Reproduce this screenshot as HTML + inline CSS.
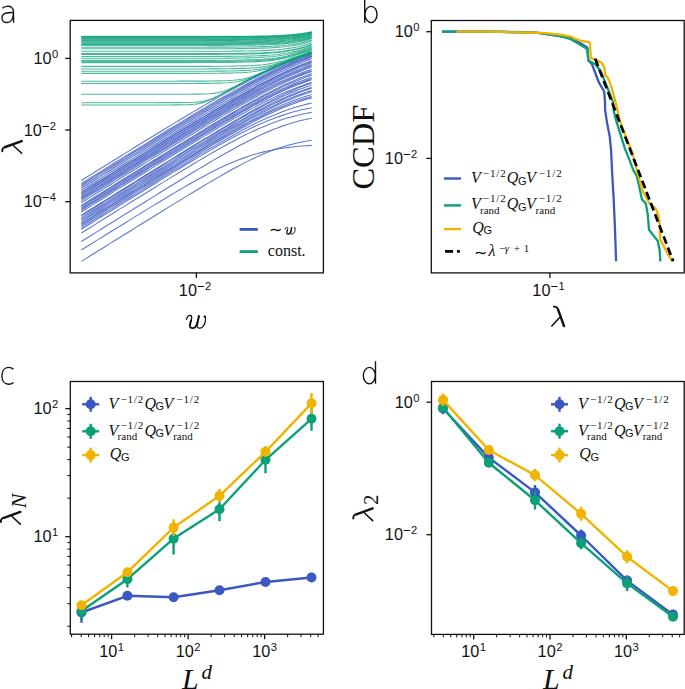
<!DOCTYPE html>
<html><head><meta charset="utf-8"><title>figure</title>
<style>
html,body{margin:0;padding:0;background:#fff;overflow:hidden;}
svg{display:block;}
</style></head><body>
<svg width="685" height="689" viewBox="0 0 685 689" font-family="Liberation Sans, sans-serif">
<defs><clipPath id="ca"><rect x="70.9" y="21" width="251.8" height="251"/></clipPath></defs>
<g clip-path="url(#ca)" fill="none" stroke-width="1.1">
<path d="M81.30,180.46 L86.20,177.42 L91.10,174.38 L96.01,171.34 L100.91,168.30 L105.81,165.26 L110.71,162.23 L115.61,159.20 L120.52,156.17 L125.42,153.14 L130.32,150.12 L135.22,147.09 L140.13,144.08 L145.03,141.07 L149.93,138.06 L154.83,135.06 L159.73,132.07 L164.64,129.08 L169.54,126.10 L174.44,123.14 L179.34,120.18 L184.24,117.24 L189.15,114.31 L194.05,111.39 L198.95,108.49 L203.85,105.62 L208.76,102.76 L213.66,99.93 L218.56,97.13 L223.46,94.36 L228.36,91.62 L233.27,88.92 L238.17,86.27 L243.07,83.65 L247.97,81.09 L252.87,78.59 L257.78,76.14 L262.68,73.76 L267.58,71.44 L272.48,69.20 L277.39,67.04 L282.29,64.96 L287.19,62.97 L292.09,61.07 L296.99,59.26 L301.90,57.54 L306.80,55.92 L311.70,54.40" stroke="#3a57c2" stroke-opacity="0.8"/>
<path d="M81.30,183.59 L86.20,180.55 L91.10,177.50 L96.01,174.46 L100.91,171.42 L105.81,168.38 L110.71,165.34 L115.61,162.30 L120.52,159.26 L125.42,156.23 L130.32,153.20 L135.22,150.17 L140.13,147.15 L145.03,144.12 L149.93,141.11 L154.83,138.09 L159.73,135.09 L164.64,132.08 L169.54,129.09 L174.44,126.10 L179.34,123.12 L184.24,120.15 L189.15,117.20 L194.05,114.25 L198.95,111.32 L203.85,108.40 L208.76,105.51 L213.66,102.63 L218.56,99.77 L223.46,96.95 L228.36,94.14 L233.27,91.37 L238.17,88.64 L243.07,85.95 L247.97,83.29 L252.87,80.69 L257.78,78.14 L262.68,75.64 L267.58,73.20 L272.48,70.84 L277.39,68.54 L282.29,66.32 L287.19,64.18 L292.09,62.13 L296.99,60.17 L301.90,58.30 L306.80,56.52 L311.70,54.84" stroke="#3a57c2" stroke-opacity="0.8"/>
<path d="M81.30,184.99 L86.20,181.94 L91.10,178.90 L96.01,175.85 L100.91,172.81 L105.81,169.77 L110.71,166.73 L115.61,163.69 L120.52,160.66 L125.42,157.62 L130.32,154.59 L135.22,151.56 L140.13,148.53 L145.03,145.51 L149.93,142.49 L154.83,139.48 L159.73,136.47 L164.64,133.46 L169.54,130.46 L174.44,127.47 L179.34,124.49 L184.24,121.52 L189.15,118.56 L194.05,115.61 L198.95,112.67 L203.85,109.75 L208.76,106.85 L213.66,103.97 L218.56,101.11 L223.46,98.27 L228.36,95.47 L233.27,92.69 L238.17,89.95 L243.07,87.24 L247.97,84.58 L252.87,81.97 L257.78,79.41 L262.68,76.90 L267.58,74.46 L272.48,72.08 L277.39,69.77 L282.29,67.54 L287.19,65.40 L292.09,63.33 L296.99,61.36 L301.90,59.48 L306.80,57.70 L311.70,56.01" stroke="#3a57c2" stroke-opacity="0.8"/>
<path d="M81.30,186.58 L86.20,183.53 L91.10,180.49 L96.01,177.44 L100.91,174.40 L105.81,171.36 L110.71,168.31 L115.61,165.27 L120.52,162.24 L125.42,159.20 L130.32,156.16 L135.22,153.13 L140.13,150.10 L145.03,147.07 L149.93,144.05 L154.83,141.03 L159.73,138.01 L164.64,135.00 L169.54,132.00 L174.44,129.00 L179.34,126.01 L184.24,123.02 L189.15,120.05 L194.05,117.09 L198.95,114.14 L203.85,111.20 L208.76,108.28 L213.66,105.37 L218.56,102.49 L223.46,99.63 L228.36,96.79 L233.27,93.98 L238.17,91.20 L243.07,88.46 L247.97,85.75 L252.87,83.09 L257.78,80.48 L262.68,77.91 L267.58,75.41 L272.48,72.97 L277.39,70.59 L282.29,68.29 L287.19,66.06 L292.09,63.92 L296.99,61.86 L301.90,59.90 L306.80,58.03 L311.70,56.25" stroke="#3a57c2" stroke-opacity="0.8"/>
<path d="M81.30,188.30 L86.20,185.26 L91.10,182.21 L96.01,179.16 L100.91,176.12 L105.81,173.08 L110.71,170.03 L115.61,166.99 L120.52,163.95 L125.42,160.91 L130.32,157.88 L135.22,154.84 L140.13,151.81 L145.03,148.78 L149.93,145.75 L154.83,142.73 L159.73,139.71 L164.64,136.70 L169.54,133.69 L174.44,130.68 L179.34,127.69 L184.24,124.70 L189.15,121.72 L194.05,118.75 L198.95,115.79 L203.85,112.84 L208.76,109.91 L213.66,107.00 L218.56,104.10 L223.46,101.23 L228.36,98.37 L233.27,95.55 L238.17,92.75 L243.07,89.99 L247.97,87.26 L252.87,84.58 L257.78,81.94 L262.68,79.35 L267.58,76.82 L272.48,74.35 L277.39,71.94 L282.29,69.60 L287.19,67.34 L292.09,65.17 L296.99,63.07 L301.90,61.07 L306.80,59.16 L311.70,57.35" stroke="#3a57c2" stroke-opacity="0.8"/>
<path d="M81.30,190.34 L86.20,187.29 L91.10,184.24 L96.01,181.20 L100.91,178.15 L105.81,175.11 L110.71,172.06 L115.61,169.02 L120.52,165.98 L125.42,162.94 L130.32,159.90 L135.22,156.87 L140.13,153.83 L145.03,150.80 L149.93,147.77 L154.83,144.74 L159.73,141.72 L164.64,138.70 L169.54,135.69 L174.44,132.68 L179.34,129.68 L184.24,126.69 L189.15,123.70 L194.05,120.72 L198.95,117.76 L203.85,114.80 L208.76,111.86 L213.66,108.94 L218.56,106.03 L223.46,103.14 L228.36,100.27 L233.27,97.43 L238.17,94.62 L243.07,91.84 L247.97,89.09 L252.87,86.38 L257.78,83.72 L262.68,81.11 L267.58,78.54 L272.48,76.04 L277.39,73.60 L282.29,71.23 L287.19,68.94 L292.09,66.73 L296.99,64.60 L301.90,62.56 L306.80,60.61 L311.70,58.76" stroke="#3a57c2" stroke-opacity="0.8"/>
<path d="M81.30,192.18 L86.20,189.14 L91.10,186.09 L96.01,183.04 L100.91,180.00 L105.81,176.95 L110.71,173.91 L115.61,170.87 L120.52,167.83 L125.42,164.79 L130.32,161.75 L135.22,158.71 L140.13,155.68 L145.03,152.64 L149.93,149.61 L154.83,146.59 L159.73,143.56 L164.64,140.55 L169.54,137.53 L174.44,134.52 L179.34,131.52 L184.24,128.53 L189.15,125.54 L194.05,122.56 L198.95,119.60 L203.85,116.64 L208.76,113.70 L213.66,110.77 L218.56,107.86 L223.46,104.98 L228.36,102.11 L233.27,99.27 L238.17,96.46 L243.07,93.68 L247.97,90.93 L252.87,88.23 L257.78,85.57 L262.68,82.96 L267.58,80.41 L272.48,77.91 L277.39,75.49 L282.29,73.13 L287.19,70.84 L292.09,68.64 L296.99,66.53 L301.90,64.51 L306.80,62.58 L311.70,60.76" stroke="#3a57c2" stroke-opacity="0.8"/>
<path d="M81.30,192.89 L86.20,189.84 L91.10,186.80 L96.01,183.75 L100.91,180.71 L105.81,177.66 L110.71,174.62 L115.61,171.57 L120.52,168.53 L125.42,165.49 L130.32,162.45 L135.22,159.42 L140.13,156.38 L145.03,153.35 L149.93,150.32 L154.83,147.30 L159.73,144.27 L164.64,141.25 L169.54,138.24 L174.44,135.23 L179.34,132.23 L184.24,129.24 L189.15,126.25 L194.05,123.27 L198.95,120.31 L203.85,117.35 L208.76,114.41 L213.66,111.49 L218.56,108.58 L223.46,105.70 L228.36,102.83 L233.27,99.99 L238.17,97.19 L243.07,94.41 L247.97,91.67 L252.87,88.97 L257.78,86.32 L262.68,83.72 L267.58,81.17 L272.48,78.69 L277.39,76.27 L282.29,73.92 L287.19,71.65 L292.09,69.46 L296.99,67.37 L301.90,65.36 L306.80,63.45 L311.70,61.64" stroke="#3a57c2" stroke-opacity="0.8"/>
<path d="M81.30,194.31 L86.20,191.26 L91.10,188.21 L96.01,185.17 L100.91,182.12 L105.81,179.08 L110.71,176.03 L115.61,172.99 L120.52,169.95 L125.42,166.90 L130.32,163.87 L135.22,160.83 L140.13,157.79 L145.03,154.76 L149.93,151.73 L154.83,148.70 L159.73,145.68 L164.64,142.66 L169.54,139.64 L174.44,136.63 L179.34,133.63 L184.24,130.63 L189.15,127.64 L194.05,124.66 L198.95,121.69 L203.85,118.73 L208.76,115.79 L213.66,112.86 L218.56,109.95 L223.46,107.05 L228.36,104.18 L233.27,101.34 L238.17,98.52 L243.07,95.74 L247.97,92.99 L252.87,90.28 L257.78,87.62 L262.68,85.01 L267.58,82.45 L272.48,79.95 L277.39,77.52 L282.29,75.16 L287.19,72.87 L292.09,70.67 L296.99,68.56 L301.90,66.54 L306.80,64.62 L311.70,62.80" stroke="#3a57c2" stroke-opacity="0.8"/>
<path d="M81.30,195.45 L86.20,192.40 L91.10,189.36 L96.01,186.31 L100.91,183.26 L105.81,180.22 L110.71,177.18 L115.61,174.13 L120.52,171.09 L125.42,168.05 L130.32,165.01 L135.22,161.97 L140.13,158.94 L145.03,155.91 L149.93,152.88 L154.83,149.85 L159.73,146.83 L164.64,143.81 L169.54,140.80 L174.44,137.79 L179.34,134.79 L184.24,131.79 L189.15,128.81 L194.05,125.83 L198.95,122.87 L203.85,119.91 L208.76,116.98 L213.66,114.05 L218.56,111.15 L223.46,108.27 L228.36,105.41 L233.27,102.58 L238.17,99.77 L243.07,97.01 L247.97,94.28 L252.87,91.59 L257.78,88.95 L262.68,86.37 L267.58,83.84 L272.48,81.37 L277.39,78.98 L282.29,76.66 L287.19,74.42 L292.09,72.27 L296.99,70.21 L301.90,68.24 L306.80,66.37 L311.70,64.61" stroke="#3a57c2" stroke-opacity="0.8"/>
<path d="M81.30,196.85 L86.20,193.80 L91.10,190.76 L96.01,187.71 L100.91,184.66 L105.81,181.62 L110.71,178.57 L115.61,175.53 L120.52,172.49 L125.42,169.45 L130.32,166.41 L135.22,163.37 L140.13,160.33 L145.03,157.30 L149.93,154.27 L154.83,151.24 L159.73,148.22 L164.64,145.20 L169.54,142.18 L174.44,139.18 L179.34,136.17 L184.24,133.18 L189.15,130.19 L194.05,127.21 L198.95,124.24 L203.85,121.28 L208.76,118.34 L213.66,115.42 L218.56,112.51 L223.46,109.62 L228.36,106.76 L233.27,103.92 L238.17,101.11 L243.07,98.34 L247.97,95.60 L252.87,92.90 L257.78,90.26 L262.68,87.66 L267.58,85.13 L272.48,82.65 L277.39,80.25 L282.29,77.92 L287.19,75.67 L292.09,73.51 L296.99,71.44 L301.90,69.46 L306.80,67.59 L311.70,65.82" stroke="#3a57c2" stroke-opacity="0.8"/>
<path d="M81.30,198.02 L86.20,194.98 L91.10,191.93 L96.01,188.88 L100.91,185.84 L105.81,182.79 L110.71,179.75 L115.61,176.70 L120.52,173.66 L125.42,170.62 L130.32,167.58 L135.22,164.54 L140.13,161.51 L145.03,158.47 L149.93,155.44 L154.83,152.41 L159.73,149.39 L164.64,146.37 L169.54,143.35 L174.44,140.34 L179.34,137.34 L184.24,134.34 L189.15,131.35 L194.05,128.37 L198.95,125.40 L203.85,122.45 L208.76,119.50 L213.66,116.58 L218.56,113.67 L223.46,110.78 L228.36,107.91 L233.27,105.08 L238.17,102.27 L243.07,99.49 L247.97,96.76 L252.87,94.06 L257.78,91.41 L262.68,88.82 L267.58,86.29 L272.48,83.81 L277.39,81.41 L282.29,79.09 L287.19,76.84 L292.09,74.68 L296.99,72.62 L301.90,70.65 L306.80,68.79 L311.70,67.03" stroke="#3a57c2" stroke-opacity="0.8"/>
<path d="M81.30,199.32 L86.20,196.27 L91.10,193.22 L96.01,190.17 L100.91,187.13 L105.81,184.08 L110.71,181.04 L115.61,178.00 L120.52,174.95 L125.42,171.91 L130.32,168.87 L135.22,165.84 L140.13,162.80 L145.03,159.77 L149.93,156.74 L154.83,153.72 L159.73,150.69 L164.64,147.68 L169.54,144.66 L174.44,141.66 L179.34,138.66 L184.24,135.66 L189.15,132.68 L194.05,129.71 L198.95,126.74 L203.85,123.80 L208.76,120.86 L213.66,117.95 L218.56,115.05 L223.46,112.18 L228.36,109.33 L233.27,106.51 L238.17,103.72 L243.07,100.97 L247.97,98.27 L252.87,95.60 L257.78,92.99 L262.68,90.44 L267.58,87.95 L272.48,85.53 L277.39,83.18 L282.29,80.91 L287.19,78.73 L292.09,76.65 L296.99,74.66 L301.90,72.77 L306.80,70.98 L311.70,69.31" stroke="#3a57c2" stroke-opacity="0.8"/>
<path d="M81.30,200.70 L86.20,197.65 L91.10,194.60 L96.01,191.56 L100.91,188.51 L105.81,185.46 L110.71,182.42 L115.61,179.38 L120.52,176.33 L125.42,173.29 L130.32,170.25 L135.22,167.22 L140.13,164.18 L145.03,161.15 L149.93,158.12 L154.83,155.09 L159.73,152.07 L164.64,149.05 L169.54,146.04 L174.44,143.03 L179.34,140.03 L184.24,137.03 L189.15,134.05 L194.05,131.07 L198.95,128.11 L203.85,125.16 L208.76,122.22 L213.66,119.31 L218.56,116.41 L223.46,113.53 L228.36,110.68 L233.27,107.86 L238.17,105.07 L243.07,102.32 L247.97,99.61 L252.87,96.95 L257.78,94.34 L262.68,91.78 L267.58,89.29 L272.48,86.87 L277.39,84.52 L282.29,82.26 L287.19,80.08 L292.09,77.99 L296.99,76.01 L301.90,74.12 L306.80,72.34 L311.70,70.67" stroke="#3a57c2" stroke-opacity="0.8"/>
<path d="M81.30,202.71 L86.20,199.67 L91.10,196.62 L96.01,193.57 L100.91,190.52 L105.81,187.48 L110.71,184.43 L115.61,181.39 L120.52,178.34 L125.42,175.30 L130.32,172.26 L135.22,169.22 L140.13,166.18 L145.03,163.15 L149.93,160.11 L154.83,157.08 L159.73,154.06 L164.64,151.03 L169.54,148.01 L174.44,145.00 L179.34,141.99 L184.24,138.99 L189.15,136.00 L194.05,133.01 L198.95,130.03 L203.85,127.07 L208.76,124.12 L213.66,121.18 L218.56,118.27 L223.46,115.37 L228.36,112.49 L233.27,109.65 L238.17,106.83 L243.07,104.04 L247.97,101.29 L252.87,98.59 L257.78,95.93 L262.68,93.32 L267.58,90.78 L272.48,88.29 L277.39,85.88 L282.29,83.55 L287.19,81.30 L292.09,79.14 L296.99,77.07 L301.90,75.11 L306.80,73.25 L311.70,71.50" stroke="#3a57c2" stroke-opacity="0.8"/>
<path d="M81.30,205.40 L86.20,202.35 L91.10,199.30 L96.01,196.26 L100.91,193.21 L105.81,190.16 L110.71,187.12 L115.61,184.07 L120.52,181.03 L125.42,177.98 L130.32,174.94 L135.22,171.90 L140.13,168.86 L145.03,165.82 L149.93,162.79 L154.83,159.75 L159.73,156.72 L164.64,153.70 L169.54,150.68 L174.44,147.66 L179.34,144.64 L184.24,141.64 L189.15,138.64 L194.05,135.65 L198.95,132.66 L203.85,129.69 L208.76,126.73 L213.66,123.79 L218.56,120.86 L223.46,117.95 L228.36,115.06 L233.27,112.20 L238.17,109.36 L243.07,106.56 L247.97,103.79 L252.87,101.06 L257.78,98.38 L262.68,95.75 L267.58,93.18 L272.48,90.67 L277.39,88.23 L282.29,85.86 L287.19,83.58 L292.09,81.38 L296.99,79.28 L301.90,77.28 L306.80,75.39 L311.70,73.60" stroke="#3a57c2" stroke-opacity="0.8"/>
<path d="M81.30,206.33 L86.20,203.28 L91.10,200.23 L96.01,197.19 L100.91,194.14 L105.81,191.09 L110.71,188.05 L115.61,185.00 L120.52,181.96 L125.42,178.91 L130.32,175.87 L135.22,172.83 L140.13,169.79 L145.03,166.76 L149.93,163.72 L154.83,160.69 L159.73,157.66 L164.64,154.64 L169.54,151.61 L174.44,148.60 L179.34,145.59 L184.24,142.58 L189.15,139.59 L194.05,136.60 L198.95,133.62 L203.85,130.65 L208.76,127.70 L213.66,124.76 L218.56,121.84 L223.46,118.94 L228.36,116.06 L233.27,113.20 L238.17,110.38 L243.07,107.59 L247.97,104.84 L252.87,102.13 L257.78,99.47 L262.68,96.86 L267.58,94.32 L272.48,91.84 L277.39,89.43 L282.29,87.10 L287.19,84.86 L292.09,82.70 L296.99,80.65 L301.90,78.70 L306.80,76.86 L311.70,75.12" stroke="#3a57c2" stroke-opacity="0.8"/>
<path d="M81.30,207.72 L86.20,204.67 L91.10,201.62 L96.01,198.58 L100.91,195.53 L105.81,192.48 L110.71,189.44 L115.61,186.39 L120.52,183.35 L125.42,180.30 L130.32,177.26 L135.22,174.22 L140.13,171.18 L145.03,168.15 L149.93,165.12 L154.83,162.08 L159.73,159.06 L164.64,156.03 L169.54,153.01 L174.44,150.00 L179.34,146.99 L184.24,143.99 L189.15,141.00 L194.05,138.01 L198.95,135.04 L203.85,132.08 L208.76,129.13 L213.66,126.20 L218.56,123.29 L223.46,120.40 L228.36,117.53 L233.27,114.69 L238.17,111.89 L243.07,109.12 L247.97,106.39 L252.87,103.70 L257.78,101.07 L262.68,98.50 L267.58,95.99 L272.48,93.55 L277.39,91.18 L282.29,88.91 L287.19,86.72 L292.09,84.62 L296.99,82.63 L301.90,80.75 L306.80,78.97 L311.70,77.31" stroke="#3a57c2" stroke-opacity="0.8"/>
<path d="M81.30,209.08 L86.20,206.03 L91.10,202.99 L96.01,199.94 L100.91,196.89 L105.81,193.84 L110.71,190.80 L115.61,187.75 L120.52,184.71 L125.42,181.67 L130.32,178.62 L135.22,175.58 L140.13,172.54 L145.03,169.51 L149.93,166.47 L154.83,163.44 L159.73,160.42 L164.64,157.39 L169.54,154.37 L174.44,151.36 L179.34,148.35 L184.24,145.35 L189.15,142.35 L194.05,139.37 L198.95,136.39 L203.85,133.43 L208.76,130.48 L213.66,127.55 L218.56,124.64 L223.46,121.75 L228.36,118.88 L233.27,116.04 L238.17,113.23 L243.07,110.46 L247.97,107.73 L252.87,105.05 L257.78,102.42 L262.68,99.85 L267.58,97.34 L272.48,94.90 L277.39,92.54 L282.29,90.27 L287.19,88.09 L292.09,86.00 L296.99,84.02 L301.90,82.14 L306.80,80.38 L311.70,78.73" stroke="#3a57c2" stroke-opacity="0.8"/>
<path d="M81.30,210.24 L86.20,207.19 L91.10,204.14 L96.01,201.09 L100.91,198.04 L105.81,195.00 L110.71,191.95 L115.61,188.91 L120.52,185.86 L125.42,182.82 L130.32,179.78 L135.22,176.73 L140.13,173.70 L145.03,170.66 L149.93,167.62 L154.83,164.59 L159.73,161.56 L164.64,158.54 L169.54,155.52 L174.44,152.50 L179.34,149.49 L184.24,146.49 L189.15,143.49 L194.05,140.50 L198.95,137.53 L203.85,134.56 L208.76,131.61 L213.66,128.68 L218.56,125.76 L223.46,122.86 L228.36,119.99 L233.27,117.15 L238.17,114.33 L243.07,111.56 L247.97,108.82 L252.87,106.13 L257.78,103.49 L262.68,100.91 L267.58,98.40 L272.48,95.95 L277.39,93.58 L282.29,91.30 L287.19,89.10 L292.09,87.01 L296.99,85.02 L301.90,83.13 L306.80,81.36 L311.70,79.70" stroke="#3a57c2" stroke-opacity="0.8"/>
<path d="M81.30,211.98 L86.20,208.93 L91.10,205.89 L96.01,202.84 L100.91,199.79 L105.81,196.74 L110.71,193.70 L115.61,190.65 L120.52,187.61 L125.42,184.57 L130.32,181.53 L135.22,178.49 L140.13,175.45 L145.03,172.41 L149.93,169.38 L154.83,166.35 L159.73,163.32 L164.64,160.30 L169.54,157.28 L174.44,154.27 L179.34,151.26 L184.24,148.26 L189.15,145.27 L194.05,142.29 L198.95,139.32 L203.85,136.36 L208.76,133.42 L213.66,130.49 L218.56,127.59 L223.46,124.71 L228.36,121.85 L233.27,119.03 L238.17,116.24 L243.07,113.49 L247.97,110.78 L252.87,108.12 L257.78,105.52 L262.68,102.99 L267.58,100.52 L272.48,98.13 L277.39,95.82 L282.29,93.60 L287.19,91.48 L292.09,89.46 L296.99,87.55 L301.90,85.76 L306.80,84.07 L311.70,82.51" stroke="#3a57c2" stroke-opacity="0.8"/>
<path d="M81.30,215.15 L86.20,212.10 L91.10,209.05 L96.01,206.00 L100.91,202.96 L105.81,199.91 L110.71,196.86 L115.61,193.81 L120.52,190.77 L125.42,187.72 L130.32,184.68 L135.22,181.63 L140.13,178.59 L145.03,175.55 L149.93,172.51 L154.83,169.47 L159.73,166.44 L164.64,163.41 L169.54,160.38 L174.44,157.36 L179.34,154.34 L184.24,151.32 L189.15,148.31 L194.05,145.31 L198.95,142.32 L203.85,139.33 L208.76,136.36 L213.66,133.40 L218.56,130.46 L223.46,127.53 L228.36,124.62 L233.27,121.74 L238.17,118.88 L243.07,116.05 L247.97,113.26 L252.87,110.51 L257.78,107.80 L262.68,105.14 L267.58,102.54 L272.48,100.00 L277.39,97.54 L282.29,95.15 L287.19,92.85 L292.09,90.64 L296.99,88.53 L301.90,86.52 L306.80,84.63 L311.70,82.85" stroke="#3a57c2" stroke-opacity="0.8"/>
<path d="M81.30,215.87 L86.20,212.83 L91.10,209.78 L96.01,206.73 L100.91,203.68 L105.81,200.63 L110.71,197.59 L115.61,194.54 L120.52,191.49 L125.42,188.45 L130.32,185.41 L135.22,182.36 L140.13,179.32 L145.03,176.28 L149.93,173.25 L154.83,170.21 L159.73,167.18 L164.64,164.15 L169.54,161.13 L174.44,158.11 L179.34,155.09 L184.24,152.08 L189.15,149.08 L194.05,146.09 L198.95,143.10 L203.85,140.13 L208.76,137.17 L213.66,134.23 L218.56,131.30 L223.46,128.39 L228.36,125.51 L233.27,122.65 L238.17,119.83 L243.07,117.04 L247.97,114.29 L252.87,111.58 L257.78,108.93 L262.68,106.33 L267.58,103.80 L272.48,101.34 L277.39,98.96 L282.29,96.67 L287.19,94.47 L292.09,92.37 L296.99,90.37 L301.90,88.49 L306.80,86.72 L311.70,85.07" stroke="#3a57c2" stroke-opacity="0.8"/>
<path d="M81.30,217.62 L86.20,214.57 L91.10,211.52 L96.01,208.47 L100.91,205.42 L105.81,202.38 L110.71,199.33 L115.61,196.28 L120.52,193.24 L125.42,190.19 L130.32,187.15 L135.22,184.11 L140.13,181.07 L145.03,178.03 L149.93,174.99 L154.83,171.96 L159.73,168.93 L164.64,165.90 L169.54,162.87 L174.44,159.86 L179.34,156.84 L184.24,153.83 L189.15,150.83 L194.05,147.84 L198.95,144.86 L203.85,141.89 L208.76,138.94 L213.66,136.00 L218.56,133.07 L223.46,130.17 L228.36,127.30 L233.27,124.45 L238.17,121.64 L243.07,118.86 L247.97,116.12 L252.87,113.43 L257.78,110.80 L262.68,108.23 L267.58,105.72 L272.48,103.29 L277.39,100.94 L282.29,98.68 L287.19,96.52 L292.09,94.46 L296.99,92.52 L301.90,90.68 L306.80,88.96 L311.70,87.37" stroke="#3a57c2" stroke-opacity="0.8"/>
<path d="M81.30,218.95 L86.20,215.90 L91.10,212.85 L96.01,209.80 L100.91,206.75 L105.81,203.70 L110.71,200.66 L115.61,197.61 L120.52,194.56 L125.42,191.52 L130.32,188.47 L135.22,185.43 L140.13,182.39 L145.03,179.35 L149.93,176.31 L154.83,173.28 L159.73,170.24 L164.64,167.21 L169.54,164.19 L174.44,161.17 L179.34,158.15 L184.24,155.14 L189.15,152.14 L194.05,149.14 L198.95,146.16 L203.85,143.18 L208.76,140.22 L213.66,137.27 L218.56,134.34 L223.46,131.43 L228.36,128.55 L233.27,125.69 L238.17,122.86 L243.07,120.06 L247.97,117.31 L252.87,114.60 L257.78,111.95 L262.68,109.35 L267.58,106.82 L272.48,104.37 L277.39,101.99 L282.29,99.70 L287.19,97.51 L292.09,95.42 L296.99,93.43 L301.90,91.56 L306.80,89.81 L311.70,88.18" stroke="#3a57c2" stroke-opacity="0.8"/>
<path d="M81.30,220.40 L86.20,217.35 L91.10,214.30 L96.01,211.26 L100.91,208.21 L105.81,205.16 L110.71,202.11 L115.61,199.07 L120.52,196.02 L125.42,192.98 L130.32,189.93 L135.22,186.89 L140.13,183.85 L145.03,180.81 L149.93,177.77 L154.83,174.74 L159.73,171.71 L164.64,168.68 L169.54,165.66 L174.44,162.64 L179.34,159.62 L184.24,156.61 L189.15,153.61 L194.05,150.62 L198.95,147.64 L203.85,144.67 L208.76,141.72 L213.66,138.78 L218.56,135.86 L223.46,132.96 L228.36,130.09 L233.27,127.24 L238.17,124.43 L243.07,121.66 L247.97,118.93 L252.87,116.25 L257.78,113.63 L262.68,111.07 L267.58,108.58 L272.48,106.17 L277.39,103.84 L282.29,101.61 L287.19,99.48 L292.09,97.45 L296.99,95.54 L301.90,93.74 L306.80,92.07 L311.70,90.52" stroke="#3a57c2" stroke-opacity="0.8"/>
<path d="M81.30,221.89 L86.20,218.84 L91.10,215.80 L96.01,212.75 L100.91,209.70 L105.81,206.65 L110.71,203.60 L115.61,200.56 L120.52,197.51 L125.42,194.46 L130.32,191.42 L135.22,188.38 L140.13,185.34 L145.03,182.30 L149.93,179.26 L154.83,176.22 L159.73,173.19 L164.64,170.16 L169.54,167.13 L174.44,164.11 L179.34,161.10 L184.24,158.09 L189.15,155.08 L194.05,152.09 L198.95,149.10 L203.85,146.13 L208.76,143.17 L213.66,140.23 L218.56,137.30 L223.46,134.39 L228.36,131.51 L233.27,128.66 L238.17,125.84 L243.07,123.05 L247.97,120.31 L252.87,117.62 L257.78,114.98 L262.68,112.40 L267.58,109.89 L272.48,107.46 L277.39,105.11 L282.29,102.85 L287.19,100.70 L292.09,98.65 L296.99,96.71 L301.90,94.89 L306.80,93.19 L311.70,91.61" stroke="#3a57c2" stroke-opacity="0.8"/>
<path d="M81.30,223.45 L86.20,220.40 L91.10,217.35 L96.01,214.31 L100.91,211.26 L105.81,208.21 L110.71,205.16 L115.61,202.12 L120.52,199.07 L125.42,196.03 L130.32,192.98 L135.22,189.94 L140.13,186.90 L145.03,183.86 L149.93,180.82 L154.83,177.79 L159.73,174.76 L164.64,171.73 L169.54,168.71 L174.44,165.69 L179.34,162.68 L184.24,159.67 L189.15,156.68 L194.05,153.69 L198.95,150.71 L203.85,147.74 L208.76,144.80 L213.66,141.86 L218.56,138.95 L223.46,136.06 L228.36,133.20 L233.27,130.37 L238.17,127.58 L243.07,124.82 L247.97,122.12 L252.87,119.47 L257.78,116.88 L262.68,114.35 L267.58,111.90 L272.48,109.54 L277.39,107.27 L282.29,105.09 L287.19,103.02 L292.09,101.07 L296.99,99.23 L301.90,97.51 L306.80,95.92 L311.70,94.45" stroke="#3a57c2" stroke-opacity="0.8"/>
<path d="M81.30,224.51 L86.20,221.46 L91.10,218.41 L96.01,215.36 L100.91,212.31 L105.81,209.26 L110.71,206.22 L115.61,203.17 L120.52,200.12 L125.42,197.08 L130.32,194.04 L135.22,191.00 L140.13,187.96 L145.03,184.92 L149.93,181.88 L154.83,178.85 L159.73,175.82 L164.64,172.80 L169.54,169.77 L174.44,166.76 L179.34,163.75 L184.24,160.75 L189.15,157.75 L194.05,154.77 L198.95,151.80 L203.85,148.84 L208.76,145.90 L213.66,142.98 L218.56,140.08 L223.46,137.20 L228.36,134.36 L233.27,131.55 L238.17,128.77 L243.07,126.04 L247.97,123.37 L252.87,120.75 L257.78,118.19 L262.68,115.71 L267.58,113.31 L272.48,111.00 L277.39,108.78 L282.29,106.66 L287.19,104.66 L292.09,102.77 L296.99,101.01 L301.90,99.36 L306.80,97.85 L311.70,96.46" stroke="#3a57c2" stroke-opacity="0.8"/>
<path d="M81.30,225.91 L86.20,222.86 L91.10,219.82 L96.01,216.77 L100.91,213.72 L105.81,210.67 L110.71,207.62 L115.61,204.58 L120.52,201.53 L125.42,198.49 L130.32,195.44 L135.22,192.40 L140.13,189.36 L145.03,186.32 L149.93,183.29 L154.83,180.26 L159.73,177.23 L164.64,174.20 L169.54,171.18 L174.44,168.16 L179.34,165.15 L184.24,162.15 L189.15,159.15 L194.05,156.17 L198.95,153.20 L203.85,150.24 L208.76,147.30 L213.66,144.37 L218.56,141.47 L223.46,138.59 L228.36,135.75 L233.27,132.93 L238.17,130.16 L243.07,127.43 L247.97,124.75 L252.87,122.13 L257.78,119.58 L262.68,117.10 L267.58,114.70 L272.48,112.39 L277.39,110.17 L282.29,108.06 L287.19,106.06 L292.09,104.18 L296.99,102.42 L301.90,100.79 L306.80,99.28 L311.70,97.90" stroke="#3a57c2" stroke-opacity="0.8"/>
<path d="M81.30,227.64 L86.20,224.59 L91.10,221.54 L96.01,218.49 L100.91,215.44 L105.81,212.40 L110.71,209.35 L115.61,206.31 L120.52,203.26 L125.42,200.22 L130.32,197.18 L135.22,194.14 L140.13,191.10 L145.03,188.07 L149.93,185.04 L154.83,182.01 L159.73,178.99 L164.64,175.97 L169.54,172.96 L174.44,169.95 L179.34,166.95 L184.24,163.97 L189.15,160.99 L194.05,158.03 L198.95,155.08 L203.85,152.15 L208.76,149.24 L213.66,146.36 L218.56,143.50 L223.46,140.68 L228.36,137.90 L233.27,135.16 L238.17,132.47 L243.07,129.84 L247.97,127.27 L252.87,124.77 L257.78,122.36 L262.68,120.03 L267.58,117.80 L272.48,115.67 L277.39,113.66 L282.29,111.76 L287.19,109.98 L292.09,108.33 L296.99,106.81 L301.90,105.42 L306.80,104.15 L311.70,103.00" stroke="#3a57c2" stroke-opacity="0.8"/>
<path d="M81.30,229.26 L86.20,226.21 L91.10,223.16 L96.01,220.11 L100.91,217.07 L105.81,214.02 L110.71,210.98 L115.61,207.93 L120.52,204.89 L125.42,201.85 L130.32,198.81 L135.22,195.78 L140.13,192.74 L145.03,189.71 L149.93,186.69 L154.83,183.67 L159.73,180.65 L164.64,177.64 L169.54,174.64 L174.44,171.64 L179.34,168.66 L184.24,165.69 L189.15,162.73 L194.05,159.79 L198.95,156.87 L203.85,153.98 L208.76,151.11 L213.66,148.27 L218.56,145.46 L223.46,142.70 L228.36,139.98 L233.27,137.32 L238.17,134.72 L243.07,132.19 L247.97,129.73 L252.87,127.36 L257.78,125.08 L262.68,122.91 L267.58,120.84 L272.48,118.89 L277.39,117.07 L282.29,115.36 L287.19,113.79 L292.09,112.34 L296.99,111.02 L301.90,109.83 L306.80,108.76 L311.70,107.80" stroke="#3a57c2" stroke-opacity="0.8"/>
<path d="M81.30,233.01 L86.20,229.97 L91.10,226.92 L96.01,223.87 L100.91,220.82 L105.81,217.78 L110.71,214.73 L115.61,211.69 L120.52,208.65 L125.42,205.61 L130.32,202.57 L135.22,199.53 L140.13,196.50 L145.03,193.47 L149.93,190.44 L154.83,187.42 L159.73,184.40 L164.64,181.39 L169.54,178.39 L174.44,175.40 L179.34,172.42 L184.24,169.45 L189.15,166.49 L194.05,163.55 L198.95,160.64 L203.85,157.74 L208.76,154.88 L213.66,152.04 L218.56,149.25 L223.46,146.50 L228.36,143.79 L233.27,141.15 L238.17,138.57 L243.07,136.06 L247.97,133.63 L252.87,131.29 L257.78,129.05 L262.68,126.92 L267.58,124.90 L272.48,123.00 L277.39,121.22 L282.29,119.58 L287.19,118.07 L292.09,116.69 L296.99,115.43 L301.90,114.30 L306.80,113.30 L311.70,112.40" stroke="#3a57c2" stroke-opacity="0.8"/>
<path d="M81.30,241.51 L86.20,238.46 L91.10,235.41 L96.01,232.36 L100.91,229.31 L105.81,226.27 L110.71,223.22 L115.61,220.17 L120.52,217.13 L125.42,214.08 L130.32,211.04 L135.22,208.00 L140.13,204.96 L145.03,201.92 L149.93,198.89 L154.83,195.86 L159.73,192.83 L164.64,189.81 L169.54,186.79 L174.44,183.78 L179.34,180.78 L184.24,177.79 L189.15,174.80 L194.05,171.84 L198.95,168.88 L203.85,165.95 L208.76,163.04 L213.66,160.15 L218.56,157.30 L223.46,154.48 L228.36,151.70 L233.27,148.97 L238.17,146.29 L243.07,143.68 L247.97,141.14 L252.87,138.68 L257.78,136.31 L262.68,134.04 L267.58,131.87 L272.48,129.83 L277.39,127.91 L282.29,126.12 L287.19,124.46 L292.09,122.94 L296.99,121.56 L301.90,120.31 L306.80,119.19 L311.70,118.20" stroke="#3a57c2" stroke-opacity="0.8"/>
<path d="M81.30,250.02 L86.20,246.98 L91.10,243.93 L96.01,240.89 L100.91,237.85 L105.81,234.81 L110.71,231.77 L115.61,228.73 L120.52,225.70 L125.42,222.67 L130.32,219.65 L135.22,216.63 L140.13,213.62 L145.03,210.61 L149.93,207.62 L154.83,204.63 L159.73,201.66 L164.64,198.71 L169.54,195.78 L174.44,192.86 L179.34,189.98 L184.24,187.12 L189.15,184.31 L194.05,181.54 L198.95,178.82 L203.85,176.15 L208.76,173.56 L213.66,171.04 L218.56,168.61 L223.46,166.28 L228.36,164.06 L233.27,161.95 L238.17,159.97 L243.07,158.12 L247.97,156.41 L252.87,154.84 L257.78,153.41 L262.68,152.13 L267.58,150.98 L272.48,149.96 L277.39,149.06 L282.29,148.28 L287.19,147.59 L292.09,147.01 L296.99,146.50 L301.90,146.07 L306.80,145.71 L311.70,145.40" stroke="#3a57c2" stroke-opacity="0.8"/>
<path d="M81.30,261.40 L86.20,258.35 L91.10,255.31 L96.01,252.26 L100.91,249.21 L105.81,246.16 L110.71,243.11 L115.61,240.06 L120.52,237.02 L125.42,233.97 L130.32,230.92 L135.22,227.88 L140.13,224.84 L145.03,221.80 L149.93,218.76 L154.83,215.73 L159.73,212.70 L164.64,209.67 L169.54,206.65 L174.44,203.63 L179.34,200.63 L184.24,197.63 L189.15,194.64 L194.05,191.67 L198.95,188.71 L203.85,185.78 L208.76,182.86 L213.66,179.98 L218.56,177.13 L223.46,174.31 L228.36,171.55 L233.27,168.84 L238.17,166.19 L243.07,163.62 L247.97,161.13 L252.87,158.74 L257.78,156.46 L262.68,154.29 L267.58,152.25 L272.48,150.34 L277.39,148.58 L282.29,146.97 L287.19,145.51 L292.09,144.19 L296.99,143.02 L301.90,141.99 L306.80,141.08 L311.70,140.30" stroke="#3a57c2" stroke-opacity="0.8"/>
<path d="M81.30,36.40 L86.20,36.40 L91.10,36.40 L96.01,36.40 L100.91,36.40 L105.81,36.40 L110.71,36.40 L115.61,36.40 L120.52,36.40 L125.42,36.40 L130.32,36.40 L135.22,36.40 L140.13,36.40 L145.03,36.40 L149.93,36.40 L154.83,36.40 L159.73,36.40 L164.64,36.40 L169.54,36.40 L174.44,36.40 L179.34,36.40 L184.24,36.40 L189.15,36.39 L194.05,36.39 L198.95,36.39 L203.85,36.39 L208.76,36.38 L213.66,36.38 L218.56,36.37 L223.46,36.36 L228.36,36.35 L233.27,36.33 L238.17,36.31 L243.07,36.28 L247.97,36.25 L252.87,36.20 L257.78,36.13 L262.68,36.05 L267.58,35.94 L272.48,35.80 L277.39,35.62 L282.29,35.38 L287.19,35.07 L292.09,34.67 L296.99,34.16 L301.90,33.52 L306.80,32.71 L311.70,31.71" stroke="#0aa078" stroke-opacity="0.72"/>
<path d="M81.30,36.72 L86.20,36.72 L91.10,36.72 L96.01,36.72 L100.91,36.72 L105.81,36.72 L110.71,36.72 L115.61,36.72 L120.52,36.72 L125.42,36.72 L130.32,36.72 L135.22,36.72 L140.13,36.72 L145.03,36.72 L149.93,36.72 L154.83,36.72 L159.73,36.72 L164.64,36.72 L169.54,36.72 L174.44,36.72 L179.34,36.72 L184.24,36.72 L189.15,36.71 L194.05,36.71 L198.95,36.71 L203.85,36.71 L208.76,36.70 L213.66,36.70 L218.56,36.69 L223.46,36.68 L228.36,36.67 L233.27,36.65 L238.17,36.63 L243.07,36.60 L247.97,36.56 L252.87,36.52 L257.78,36.45 L262.68,36.37 L267.58,36.26 L272.48,36.11 L277.39,35.93 L282.29,35.68 L287.19,35.37 L292.09,34.97 L296.99,34.45 L301.90,33.80 L306.80,32.98 L311.70,31.96" stroke="#0aa078" stroke-opacity="0.72"/>
<path d="M81.30,37.19 L86.20,37.19 L91.10,37.19 L96.01,37.19 L100.91,37.19 L105.81,37.19 L110.71,37.19 L115.61,37.19 L120.52,37.19 L125.42,37.19 L130.32,37.19 L135.22,37.19 L140.13,37.19 L145.03,37.19 L149.93,37.19 L154.83,37.19 L159.73,37.19 L164.64,37.19 L169.54,37.19 L174.44,37.19 L179.34,37.19 L184.24,37.19 L189.15,37.18 L194.05,37.18 L198.95,37.18 L203.85,37.18 L208.76,37.17 L213.66,37.17 L218.56,37.16 L223.46,37.15 L228.36,37.14 L233.27,37.12 L238.17,37.10 L243.07,37.07 L247.97,37.03 L252.87,36.98 L257.78,36.91 L262.68,36.83 L267.58,36.72 L272.48,36.57 L277.39,36.38 L282.29,36.13 L287.19,35.81 L292.09,35.40 L296.99,34.87 L301.90,34.21 L306.80,33.37 L311.70,32.34" stroke="#0aa078" stroke-opacity="0.72"/>
<path d="M81.30,37.74 L86.20,37.74 L91.10,37.74 L96.01,37.74 L100.91,37.74 L105.81,37.74 L110.71,37.74 L115.61,37.74 L120.52,37.74 L125.42,37.74 L130.32,37.74 L135.22,37.74 L140.13,37.74 L145.03,37.74 L149.93,37.74 L154.83,37.74 L159.73,37.74 L164.64,37.74 L169.54,37.74 L174.44,37.74 L179.34,37.73 L184.24,37.73 L189.15,37.73 L194.05,37.73 L198.95,37.73 L203.85,37.72 L208.76,37.72 L213.66,37.71 L218.56,37.71 L223.46,37.70 L228.36,37.68 L233.27,37.67 L238.17,37.64 L243.07,37.61 L247.97,37.57 L252.87,37.52 L257.78,37.45 L262.68,37.37 L267.58,37.25 L272.48,37.10 L277.39,36.90 L282.29,36.65 L287.19,36.32 L292.09,35.90 L296.99,35.36 L301.90,34.68 L306.80,33.83 L311.70,32.77" stroke="#0aa078" stroke-opacity="0.72"/>
<path d="M81.30,38.34 L86.20,38.34 L91.10,38.34 L96.01,38.34 L100.91,38.34 L105.81,38.34 L110.71,38.34 L115.61,38.34 L120.52,38.34 L125.42,38.34 L130.32,38.34 L135.22,38.34 L140.13,38.34 L145.03,38.34 L149.93,38.34 L154.83,38.34 L159.73,38.34 L164.64,38.34 L169.54,38.34 L174.44,38.34 L179.34,38.34 L184.24,38.34 L189.15,38.34 L194.05,38.34 L198.95,38.33 L203.85,38.33 L208.76,38.33 L213.66,38.32 L218.56,38.31 L223.46,38.30 L228.36,38.29 L233.27,38.27 L238.17,38.25 L243.07,38.22 L247.97,38.18 L252.87,38.12 L257.78,38.05 L262.68,37.96 L267.58,37.84 L272.48,37.69 L277.39,37.49 L282.29,37.23 L287.19,36.89 L292.09,36.46 L296.99,35.90 L301.90,35.21 L306.80,34.33 L311.70,33.26" stroke="#0aa078" stroke-opacity="0.72"/>
<path d="M81.30,39.00 L86.20,39.00 L91.10,39.00 L96.01,39.00 L100.91,39.00 L105.81,39.00 L110.71,39.00 L115.61,39.00 L120.52,39.00 L125.42,39.00 L130.32,39.00 L135.22,39.00 L140.13,39.00 L145.03,39.00 L149.93,39.00 L154.83,39.00 L159.73,39.00 L164.64,39.00 L169.54,39.00 L174.44,39.00 L179.34,39.00 L184.24,38.99 L189.15,38.99 L194.05,38.99 L198.95,38.99 L203.85,38.98 L208.76,38.98 L213.66,38.97 L218.56,38.97 L223.46,38.95 L228.36,38.94 L233.27,38.92 L238.17,38.90 L243.07,38.87 L247.97,38.82 L252.87,38.77 L257.78,38.70 L262.68,38.60 L267.58,38.48 L272.48,38.32 L277.39,38.11 L282.29,37.85 L287.19,37.50 L292.09,37.05 L296.99,36.49 L301.90,35.77 L306.80,34.87 L311.70,33.77" stroke="#0aa078" stroke-opacity="0.72"/>
<path d="M81.30,39.69 L86.20,39.69 L91.10,39.69 L96.01,39.69 L100.91,39.69 L105.81,39.69 L110.71,39.69 L115.61,39.69 L120.52,39.69 L125.42,39.69 L130.32,39.69 L135.22,39.69 L140.13,39.69 L145.03,39.69 L149.93,39.69 L154.83,39.69 L159.73,39.69 L164.64,39.69 L169.54,39.69 L174.44,39.69 L179.34,39.69 L184.24,39.69 L189.15,39.69 L194.05,39.69 L198.95,39.68 L203.85,39.68 L208.76,39.67 L213.66,39.67 L218.56,39.66 L223.46,39.65 L228.36,39.63 L233.27,39.61 L238.17,39.59 L243.07,39.56 L247.97,39.51 L252.87,39.46 L257.78,39.38 L262.68,39.29 L267.58,39.16 L272.48,38.99 L277.39,38.78 L282.29,38.50 L287.19,38.14 L292.09,37.69 L296.99,37.10 L301.90,36.36 L306.80,35.45 L311.70,34.31" stroke="#0aa078" stroke-opacity="0.72"/>
<path d="M81.30,40.42 L86.20,40.42 L91.10,40.42 L96.01,40.42 L100.91,40.42 L105.81,40.42 L110.71,40.42 L115.61,40.42 L120.52,40.42 L125.42,40.42 L130.32,40.42 L135.22,40.42 L140.13,40.42 L145.03,40.42 L149.93,40.42 L154.83,40.42 L159.73,40.42 L164.64,40.42 L169.54,40.42 L174.44,40.42 L179.34,40.42 L184.24,40.42 L189.15,40.42 L194.05,40.42 L198.95,40.41 L203.85,40.41 L208.76,40.40 L213.66,40.40 L218.56,40.39 L223.46,40.38 L228.36,40.36 L233.27,40.34 L238.17,40.32 L243.07,40.28 L247.97,40.24 L252.87,40.18 L257.78,40.10 L262.68,40.00 L267.58,39.87 L272.48,39.70 L277.39,39.48 L282.29,39.19 L287.19,38.82 L292.09,38.35 L296.99,37.75 L301.90,36.99 L306.80,36.04 L311.70,34.88" stroke="#0aa078" stroke-opacity="0.72"/>
<path d="M81.30,41.19 L86.20,41.19 L91.10,41.19 L96.01,41.19 L100.91,41.19 L105.81,41.19 L110.71,41.19 L115.61,41.19 L120.52,41.19 L125.42,41.19 L130.32,41.19 L135.22,41.19 L140.13,41.19 L145.03,41.19 L149.93,41.19 L154.83,41.19 L159.73,41.19 L164.64,41.19 L169.54,41.19 L174.44,41.18 L179.34,41.18 L184.24,41.18 L189.15,41.18 L194.05,41.18 L198.95,41.18 L203.85,41.17 L208.76,41.17 L213.66,41.16 L218.56,41.15 L223.46,41.14 L228.36,41.12 L233.27,41.10 L238.17,41.08 L243.07,41.04 L247.97,40.99 L252.87,40.93 L257.78,40.85 L262.68,40.75 L267.58,40.61 L272.48,40.44 L277.39,40.21 L282.29,39.91 L287.19,39.53 L292.09,39.04 L296.99,38.42 L301.90,37.63 L306.80,36.66 L311.70,35.47" stroke="#0aa078" stroke-opacity="0.72"/>
<path d="M81.30,41.98 L86.20,41.98 L91.10,41.98 L96.01,41.98 L100.91,41.98 L105.81,41.98 L110.71,41.98 L115.61,41.98 L120.52,41.98 L125.42,41.98 L130.32,41.98 L135.22,41.98 L140.13,41.98 L145.03,41.98 L149.93,41.98 L154.83,41.98 L159.73,41.98 L164.64,41.98 L169.54,41.98 L174.44,41.98 L179.34,41.98 L184.24,41.97 L189.15,41.97 L194.05,41.97 L198.95,41.97 L203.85,41.96 L208.76,41.96 L213.66,41.95 L218.56,41.94 L223.46,41.93 L228.36,41.91 L233.27,41.89 L238.17,41.86 L243.07,41.83 L247.97,41.78 L252.87,41.72 L257.78,41.63 L262.68,41.53 L267.58,41.38 L272.48,41.20 L277.39,40.96 L282.29,40.66 L287.19,40.26 L292.09,39.75 L296.99,39.11 L301.90,38.30 L306.80,37.30 L311.70,36.08" stroke="#0aa078" stroke-opacity="0.72"/>
<path d="M81.30,42.80 L86.20,42.80 L91.10,42.80 L96.01,42.80 L100.91,42.80 L105.81,42.80 L110.71,42.80 L115.61,42.80 L120.52,42.80 L125.42,42.80 L130.32,42.80 L135.22,42.80 L140.13,42.80 L145.03,42.80 L149.93,42.80 L154.83,42.80 L159.73,42.80 L164.64,42.80 L169.54,42.80 L174.44,42.80 L179.34,42.79 L184.24,42.79 L189.15,42.79 L194.05,42.79 L198.95,42.79 L203.85,42.78 L208.76,42.78 L213.66,42.77 L218.56,42.76 L223.46,42.75 L228.36,42.73 L233.27,42.71 L238.17,42.68 L243.07,42.64 L247.97,42.59 L252.87,42.52 L257.78,42.44 L262.68,42.33 L267.58,42.18 L272.48,41.99 L277.39,41.74 L282.29,41.42 L287.19,41.01 L292.09,40.49 L296.99,39.82 L301.90,38.99 L306.80,37.95 L311.70,36.69" stroke="#0aa078" stroke-opacity="0.72"/>
<path d="M81.30,43.64 L86.20,43.64 L91.10,43.64 L96.01,43.64 L100.91,43.64 L105.81,43.64 L110.71,43.64 L115.61,43.64 L120.52,43.64 L125.42,43.64 L130.32,43.64 L135.22,43.64 L140.13,43.64 L145.03,43.64 L149.93,43.64 L154.83,43.64 L159.73,43.64 L164.64,43.64 L169.54,43.64 L174.44,43.64 L179.34,43.64 L184.24,43.64 L189.15,43.63 L194.05,43.63 L198.95,43.63 L203.85,43.62 L208.76,43.62 L213.66,43.61 L218.56,43.60 L223.46,43.59 L228.36,43.57 L233.27,43.55 L238.17,43.52 L243.07,43.48 L247.97,43.43 L252.87,43.36 L257.78,43.27 L262.68,43.15 L267.58,43.00 L272.48,42.80 L277.39,42.54 L282.29,42.21 L287.19,41.78 L292.09,41.24 L296.99,40.55 L301.90,39.69 L306.80,38.63 L311.70,37.33" stroke="#0aa078" stroke-opacity="0.72"/>
<path d="M81.30,44.51 L86.20,44.51 L91.10,44.51 L96.01,44.51 L100.91,44.51 L105.81,44.51 L110.71,44.51 L115.61,44.51 L120.52,44.51 L125.42,44.51 L130.32,44.51 L135.22,44.51 L140.13,44.51 L145.03,44.51 L149.93,44.51 L154.83,44.51 L159.73,44.51 L164.64,44.51 L169.54,44.51 L174.44,44.51 L179.34,44.51 L184.24,44.50 L189.15,44.50 L194.05,44.50 L198.95,44.50 L203.85,44.49 L208.76,44.49 L213.66,44.48 L218.56,44.47 L223.46,44.45 L228.36,44.43 L233.27,44.41 L238.17,44.38 L243.07,44.34 L247.97,44.28 L252.87,44.21 L257.78,44.12 L262.68,44.00 L267.58,43.84 L272.48,43.63 L277.39,43.37 L282.29,43.02 L287.19,42.58 L292.09,42.01 L296.99,41.30 L301.90,40.40 L306.80,39.31 L311.70,37.97" stroke="#0aa078" stroke-opacity="0.72"/>
<path d="M81.30,45.40 L86.20,45.40 L91.10,45.40 L96.01,45.40 L100.91,45.40 L105.81,45.40 L110.71,45.40 L115.61,45.40 L120.52,45.40 L125.42,45.40 L130.32,45.40 L135.22,45.40 L140.13,45.40 L145.03,45.40 L149.93,45.40 L154.83,45.40 L159.73,45.40 L164.64,45.40 L169.54,45.40 L174.44,45.40 L179.34,45.39 L184.24,45.39 L189.15,45.39 L194.05,45.39 L198.95,45.38 L203.85,45.38 L208.76,45.37 L213.66,45.37 L218.56,45.35 L223.46,45.34 L228.36,45.32 L233.27,45.30 L238.17,45.26 L243.07,45.22 L247.97,45.16 L252.87,45.09 L257.78,44.99 L262.68,44.87 L267.58,44.70 L272.48,44.49 L277.39,44.21 L282.29,43.85 L287.19,43.38 L292.09,42.80 L296.99,42.06 L301.90,41.13 L306.80,40.00 L311.70,38.62" stroke="#0aa078" stroke-opacity="0.72"/>
<path d="M81.30,47.20 L86.20,47.20 L91.10,47.20 L96.01,47.20 L100.91,47.20 L105.81,47.20 L110.71,47.20 L115.61,47.20 L120.52,47.20 L125.42,47.20 L130.32,47.20 L135.22,47.20 L140.13,47.20 L145.03,47.20 L149.93,47.20 L154.83,47.20 L159.73,47.20 L164.64,47.20 L169.54,47.20 L174.44,47.20 L179.34,47.19 L184.24,47.19 L189.15,47.19 L194.05,47.19 L198.95,47.18 L203.85,47.18 L208.76,47.17 L213.66,47.16 L218.56,47.15 L223.46,47.13 L228.36,47.11 L233.27,47.09 L238.17,47.05 L243.07,47.00 L247.97,46.94 L252.87,46.86 L257.78,46.76 L262.68,46.62 L267.58,46.44 L272.48,46.20 L277.39,45.90 L282.29,45.51 L287.19,45.01 L292.09,44.37 L296.99,43.57 L301.90,42.58 L306.80,41.38 L311.70,39.92" stroke="#0aa078" stroke-opacity="0.72"/>
<path d="M81.30,48.80 L86.20,48.80 L91.10,48.80 L96.01,48.80 L100.91,48.80 L105.81,48.80 L110.71,48.80 L115.61,48.80 L120.52,48.80 L125.42,48.80 L130.32,48.80 L135.22,48.80 L140.13,48.80 L145.03,48.80 L149.93,48.80 L154.83,48.80 L159.73,48.80 L164.64,48.80 L169.54,48.80 L174.44,48.80 L179.34,48.79 L184.24,48.79 L189.15,48.79 L194.05,48.79 L198.95,48.78 L203.85,48.78 L208.76,48.77 L213.66,48.76 L218.56,48.75 L223.46,48.73 L228.36,48.71 L233.27,48.68 L238.17,48.64 L243.07,48.59 L247.97,48.52 L252.87,48.43 L257.78,48.32 L262.68,48.17 L267.58,47.98 L272.48,47.72 L277.39,47.40 L282.29,46.98 L287.19,46.44 L292.09,45.76 L296.99,44.90 L301.90,43.85 L306.80,42.57 L311.70,41.04" stroke="#0aa078" stroke-opacity="0.72"/>
<path d="M81.30,51.30 L86.20,51.30 L91.10,51.30 L96.01,51.30 L100.91,51.30 L105.81,51.30 L110.71,51.30 L115.61,51.30 L120.52,51.30 L125.42,51.30 L130.32,51.30 L135.22,51.30 L140.13,51.30 L145.03,51.30 L149.93,51.30 L154.83,51.30 L159.73,51.30 L164.64,51.30 L169.54,51.30 L174.44,51.29 L179.34,51.29 L184.24,51.29 L189.15,51.29 L194.05,51.28 L198.95,51.28 L203.85,51.27 L208.76,51.26 L213.66,51.25 L218.56,51.24 L223.46,51.22 L228.36,51.19 L233.27,51.16 L238.17,51.12 L243.07,51.06 L247.97,50.99 L252.87,50.89 L257.78,50.76 L262.68,50.59 L267.58,50.37 L272.48,50.09 L277.39,49.72 L282.29,49.25 L287.19,48.64 L292.09,47.88 L296.99,46.94 L301.90,45.78 L306.80,44.39 L311.70,42.75" stroke="#0aa078" stroke-opacity="0.72"/>
<path d="M81.30,53.60 L86.20,53.60 L91.10,53.60 L96.01,53.60 L100.91,53.60 L105.81,53.60 L110.71,53.60 L115.61,53.60 L120.52,53.60 L125.42,53.60 L130.32,53.60 L135.22,53.60 L140.13,53.60 L145.03,53.60 L149.93,53.60 L154.83,53.60 L159.73,53.60 L164.64,53.60 L169.54,53.60 L174.44,53.59 L179.34,53.59 L184.24,53.59 L189.15,53.59 L194.05,53.58 L198.95,53.58 L203.85,53.57 L208.76,53.56 L213.66,53.55 L218.56,53.53 L223.46,53.51 L228.36,53.48 L233.27,53.45 L238.17,53.40 L243.07,53.33 L247.97,53.25 L252.87,53.14 L257.78,53.00 L262.68,52.81 L267.58,52.56 L272.48,52.24 L277.39,51.83 L282.29,51.30 L287.19,50.62 L292.09,49.78 L296.99,48.74 L301.90,47.48 L306.80,45.98 L311.70,44.23" stroke="#0aa078" stroke-opacity="0.72"/>
<path d="M81.30,54.40 L86.20,54.40 L91.10,54.40 L96.01,54.40 L100.91,54.40 L105.81,54.40 L110.71,54.40 L115.61,54.40 L120.52,54.40 L125.42,54.40 L130.32,54.40 L135.22,54.40 L140.13,54.40 L145.03,54.40 L149.93,54.40 L154.83,54.40 L159.73,54.40 L164.64,54.40 L169.54,54.40 L174.44,54.39 L179.34,54.39 L184.24,54.39 L189.15,54.39 L194.05,54.38 L198.95,54.38 L203.85,54.37 L208.76,54.36 L213.66,54.35 L218.56,54.33 L223.46,54.31 L228.36,54.28 L233.27,54.24 L238.17,54.19 L243.07,54.12 L247.97,54.04 L252.87,53.92 L257.78,53.77 L262.68,53.58 L267.58,53.32 L272.48,52.99 L277.39,52.56 L282.29,52.00 L287.19,51.30 L292.09,50.42 L296.99,49.34 L301.90,48.04 L306.80,46.51 L311.70,44.73" stroke="#0aa078" stroke-opacity="0.72"/>
<path d="M81.30,56.50 L86.20,56.50 L91.10,56.50 L96.01,56.50 L100.91,56.50 L105.81,56.50 L110.71,56.50 L115.61,56.50 L120.52,56.50 L125.42,56.50 L130.32,56.50 L135.22,56.50 L140.13,56.50 L145.03,56.50 L149.93,56.50 L154.83,56.50 L159.73,56.50 L164.64,56.50 L169.54,56.49 L174.44,56.49 L179.34,56.49 L184.24,56.49 L189.15,56.48 L194.05,56.48 L198.95,56.47 L203.85,56.47 L208.76,56.45 L213.66,56.44 L218.56,56.42 L223.46,56.40 L228.36,56.36 L233.27,56.32 L238.17,56.27 L243.07,56.19 L247.97,56.10 L252.87,55.97 L257.78,55.80 L262.68,55.59 L267.58,55.30 L272.48,54.93 L277.39,54.44 L282.29,53.82 L287.19,53.04 L292.09,52.07 L296.99,50.89 L301.90,49.50 L306.80,47.87 L311.70,46.00" stroke="#0aa078" stroke-opacity="0.72"/>
<path d="M81.30,58.30 L86.20,58.30 L91.10,58.30 L96.01,58.30 L100.91,58.30 L105.81,58.30 L110.71,58.30 L115.61,58.30 L120.52,58.30 L125.42,58.30 L130.32,58.30 L135.22,58.30 L140.13,58.30 L145.03,58.30 L149.93,58.30 L154.83,58.30 L159.73,58.30 L164.64,58.30 L169.54,58.29 L174.44,58.29 L179.34,58.29 L184.24,58.29 L189.15,58.28 L194.05,58.28 L198.95,58.27 L203.85,58.26 L208.76,58.25 L213.66,58.24 L218.56,58.21 L223.46,58.19 L228.36,58.15 L233.27,58.11 L238.17,58.04 L243.07,57.96 L247.97,57.86 L252.87,57.72 L257.78,57.54 L262.68,57.30 L267.58,56.98 L272.48,56.56 L277.39,56.02 L282.29,55.33 L287.19,54.45 L292.09,53.38 L296.99,52.11 L301.90,50.63 L306.80,48.93 L311.70,47.00" stroke="#0aa078" stroke-opacity="0.72"/>
<path d="M81.30,60.40 L86.20,60.40 L91.10,60.40 L96.01,60.40 L100.91,60.40 L105.81,60.40 L110.71,60.40 L115.61,60.40 L120.52,60.40 L125.42,60.40 L130.32,60.40 L135.22,60.40 L140.13,60.40 L145.03,60.40 L149.93,60.40 L154.83,60.40 L159.73,60.40 L164.64,60.40 L169.54,60.39 L174.44,60.39 L179.34,60.39 L184.24,60.39 L189.15,60.38 L194.05,60.38 L198.95,60.37 L203.85,60.36 L208.76,60.35 L213.66,60.33 L218.56,60.31 L223.46,60.28 L228.36,60.24 L233.27,60.19 L238.17,60.12 L243.07,60.03 L247.97,59.91 L252.87,59.76 L257.78,59.55 L262.68,59.28 L267.58,58.92 L272.48,58.44 L277.39,57.81 L282.29,57.01 L287.19,56.02 L292.09,54.83 L296.99,53.45 L301.90,51.87 L306.80,50.10 L311.70,48.10" stroke="#0aa078" stroke-opacity="0.72"/>
<path d="M81.30,61.50 L86.20,61.50 L91.10,61.50 L96.01,61.50 L100.91,61.50 L105.81,61.50 L110.71,61.50 L115.61,61.50 L120.52,61.50 L125.42,61.50 L130.32,61.50 L135.22,61.50 L140.13,61.50 L145.03,61.50 L149.93,61.50 L154.83,61.50 L159.73,61.50 L164.64,61.50 L169.54,61.49 L174.44,61.49 L179.34,61.49 L184.24,61.49 L189.15,61.48 L194.05,61.47 L198.95,61.47 L203.85,61.46 L208.76,61.44 L213.66,61.42 L218.56,61.40 L223.46,61.37 L228.36,61.33 L233.27,61.27 L238.17,61.20 L243.07,61.11 L247.97,60.98 L252.87,60.82 L257.78,60.60 L262.68,60.31 L267.58,59.91 L272.48,59.39 L277.39,58.72 L282.29,57.85 L287.19,56.79 L292.09,55.53 L296.99,54.08 L301.90,52.46 L306.80,50.65 L311.70,48.64" stroke="#0aa078" stroke-opacity="0.72"/>
<path d="M81.30,62.60 L86.20,62.60 L91.10,62.60 L96.01,62.60 L100.91,62.60 L105.81,62.60 L110.71,62.60 L115.61,62.60 L120.52,62.60 L125.42,62.60 L130.32,62.60 L135.22,62.60 L140.13,62.60 L145.03,62.60 L149.93,62.60 L154.83,62.60 L159.73,62.60 L164.64,62.59 L169.54,62.59 L174.44,62.59 L179.34,62.59 L184.24,62.58 L189.15,62.58 L194.05,62.57 L198.95,62.56 L203.85,62.55 L208.76,62.54 L213.66,62.52 L218.56,62.49 L223.46,62.46 L228.36,62.42 L233.27,62.36 L238.17,62.29 L243.07,62.19 L247.97,62.05 L252.87,61.88 L257.78,61.64 L262.68,61.32 L267.58,60.90 L272.48,60.33 L277.39,59.59 L282.29,58.65 L287.19,57.51 L292.09,56.18 L296.99,54.67 L301.90,53.01 L306.80,51.17 L311.70,49.14" stroke="#0aa078" stroke-opacity="0.72"/>
<path d="M81.30,66.40 L86.20,66.40 L91.10,66.40 L96.01,66.40 L100.91,66.40 L105.81,66.40 L110.71,66.40 L115.61,66.40 L120.52,66.40 L125.42,66.40 L130.32,66.40 L135.22,66.40 L140.13,66.40 L145.03,66.40 L149.93,66.40 L154.83,66.40 L159.73,66.40 L164.64,66.39 L169.54,66.39 L174.44,66.39 L179.34,66.39 L184.24,66.38 L189.15,66.38 L194.05,66.37 L198.95,66.36 L203.85,66.34 L208.76,66.33 L213.66,66.30 L218.56,66.27 L223.46,66.23 L228.36,66.18 L233.27,66.11 L238.17,66.02 L243.07,65.89 L247.97,65.72 L252.87,65.49 L257.78,65.17 L262.68,64.72 L267.58,64.09 L272.48,63.26 L277.39,62.20 L282.29,60.91 L287.19,59.45 L292.09,57.86 L296.99,56.17 L301.90,54.40 L306.80,52.53 L311.70,50.52" stroke="#0aa078" stroke-opacity="0.72"/>
<path d="M81.30,69.00 L86.20,69.00 L91.10,69.00 L96.01,69.00 L100.91,69.00 L105.81,69.00 L110.71,69.00 L115.61,69.00 L120.52,69.00 L125.42,69.00 L130.32,69.00 L135.22,69.00 L140.13,69.00 L145.03,69.00 L149.93,69.00 L154.83,69.00 L159.73,68.99 L164.64,68.99 L169.54,68.99 L174.44,68.99 L179.34,68.98 L184.24,68.98 L189.15,68.97 L194.05,68.96 L198.95,68.95 L203.85,68.94 L208.76,68.92 L213.66,68.89 L218.56,68.86 L223.46,68.81 L228.36,68.75 L233.27,68.67 L238.17,68.56 L243.07,68.41 L247.97,68.21 L252.87,67.91 L257.78,67.49 L262.68,66.89 L267.58,66.06 L272.48,64.98 L277.39,63.65 L282.29,62.14 L287.19,60.49 L292.09,58.77 L296.99,57.01 L301.90,55.21 L306.80,53.34 L311.70,51.36" stroke="#0aa078" stroke-opacity="0.72"/>
<path d="M81.30,71.30 L86.20,71.30 L91.10,71.30 L96.01,71.30 L100.91,71.30 L105.81,71.30 L110.71,71.30 L115.61,71.30 L120.52,71.30 L125.42,71.30 L130.32,71.30 L135.22,71.30 L140.13,71.30 L145.03,71.30 L149.93,71.30 L154.83,71.30 L159.73,71.29 L164.64,71.29 L169.54,71.29 L174.44,71.29 L179.34,71.28 L184.24,71.28 L189.15,71.27 L194.05,71.26 L198.95,71.25 L203.85,71.23 L208.76,71.21 L213.66,71.18 L218.56,71.14 L223.46,71.09 L228.36,71.02 L233.27,70.93 L238.17,70.80 L243.07,70.62 L247.97,70.35 L252.87,69.96 L257.78,69.39 L262.68,68.58 L267.58,67.48 L272.48,66.12 L277.39,64.54 L282.29,62.82 L287.19,61.04 L292.09,59.23 L296.99,57.43 L301.90,55.62 L306.80,53.79 L311.70,51.87" stroke="#0aa078" stroke-opacity="0.72"/>
<path d="M81.30,73.40 L86.20,73.40 L91.10,73.40 L96.01,73.40 L100.91,73.40 L105.81,73.40 L110.71,73.40 L115.61,73.40 L120.52,73.40 L125.42,73.40 L130.32,73.40 L135.22,73.40 L140.13,73.40 L145.03,73.40 L149.93,73.40 L154.83,73.39 L159.73,73.39 L164.64,73.39 L169.54,73.39 L174.44,73.39 L179.34,73.38 L184.24,73.37 L189.15,73.37 L194.05,73.36 L198.95,73.34 L203.85,73.32 L208.76,73.30 L213.66,73.27 L218.56,73.22 L223.46,73.16 L228.36,73.08 L233.27,72.98 L238.17,72.82 L243.07,72.59 L247.97,72.24 L252.87,71.72 L257.78,70.94 L262.68,69.86 L267.58,68.48 L272.48,66.85 L277.39,65.07 L282.29,63.22 L287.19,61.35 L292.09,59.49 L296.99,57.67 L301.90,55.87 L306.80,54.07 L311.70,52.21" stroke="#0aa078" stroke-opacity="0.72"/>
<path d="M81.30,81.20 L86.20,81.20 L91.10,81.20 L96.01,81.20 L100.91,81.20 L105.81,81.20 L110.71,81.20 L115.61,81.20 L120.52,81.20 L125.42,81.20 L130.32,81.20 L135.22,81.20 L140.13,81.20 L145.03,81.20 L149.93,81.19 L154.83,81.19 L159.73,81.19 L164.64,81.19 L169.54,81.18 L174.44,81.18 L179.34,81.17 L184.24,81.16 L189.15,81.15 L194.05,81.13 L198.95,81.11 L203.85,81.09 L208.76,81.05 L213.66,80.99 L218.56,80.92 L223.46,80.81 L228.36,80.62 L233.27,80.32 L238.17,79.82 L243.07,78.99 L247.97,77.77 L252.87,76.15 L257.78,74.23 L262.68,72.15 L267.58,70.00 L272.48,67.85 L277.39,65.74 L282.29,63.69 L287.19,61.70 L292.09,59.80 L296.99,57.97 L301.90,56.21 L306.80,54.52 L311.70,52.84" stroke="#0aa078" stroke-opacity="0.72"/>
<path d="M81.30,83.50 L86.20,83.50 L91.10,83.50 L96.01,83.50 L100.91,83.50 L105.81,83.50 L110.71,83.50 L115.61,83.50 L120.52,83.50 L125.42,83.50 L130.32,83.50 L135.22,83.50 L140.13,83.50 L145.03,83.50 L149.93,83.49 L154.83,83.49 L159.73,83.49 L164.64,83.49 L169.54,83.48 L174.44,83.48 L179.34,83.47 L184.24,83.46 L189.15,83.44 L194.05,83.43 L198.95,83.40 L203.85,83.37 L208.76,83.33 L213.66,83.26 L218.56,83.17 L223.46,83.01 L228.36,82.76 L233.27,82.31 L238.17,81.56 L243.07,80.40 L247.97,78.81 L252.87,76.89 L257.78,74.77 L262.68,72.57 L267.58,70.35 L272.48,68.16 L277.39,66.02 L282.29,63.96 L287.19,61.97 L292.09,60.06 L296.99,58.23 L301.90,56.49 L306.80,54.80 L311.70,53.15" stroke="#0aa078" stroke-opacity="0.72"/>
<path d="M81.30,94.30 L86.20,94.30 L91.10,94.30 L96.01,94.30 L100.91,94.30 L105.81,94.30 L110.71,94.30 L115.61,94.30 L120.52,94.30 L125.42,94.30 L130.32,94.30 L135.22,94.30 L140.13,94.29 L145.03,94.29 L149.93,94.29 L154.83,94.29 L159.73,94.28 L164.64,94.28 L169.54,94.27 L174.44,94.26 L179.34,94.25 L184.24,94.23 L189.15,94.20 L194.05,94.16 L198.95,94.10 L203.85,93.98 L208.76,93.77 L213.66,93.36 L218.56,92.60 L223.46,91.33 L228.36,89.55 L233.27,87.37 L238.17,84.97 L243.07,82.49 L247.97,79.99 L252.87,77.51 L257.78,75.08 L262.68,72.70 L267.58,70.39 L272.48,68.16 L277.39,65.99 L282.29,63.92 L287.19,61.92 L292.09,60.02 L296.99,58.20 L301.90,56.48 L306.80,54.84 L311.70,53.28" stroke="#0aa078" stroke-opacity="0.72"/>
<path d="M81.30,102.70 L86.20,102.70 L91.10,102.70 L96.01,102.70 L100.91,102.70 L105.81,102.70 L110.71,102.70 L115.61,102.70 L120.52,102.70 L125.42,102.70 L130.32,102.69 L135.22,102.69 L140.13,102.69 L145.03,102.69 L149.93,102.68 L154.83,102.68 L159.73,102.67 L164.64,102.66 L169.54,102.65 L174.44,102.63 L179.34,102.60 L184.24,102.55 L189.15,102.46 L194.05,102.27 L198.95,101.88 L203.85,101.12 L208.76,99.82 L213.66,97.94 L218.56,95.63 L223.46,93.09 L228.36,90.46 L233.27,87.81 L238.17,85.18 L243.07,82.58 L247.97,80.02 L252.87,77.51 L257.78,75.07 L262.68,72.69 L267.58,70.37 L272.48,68.13 L277.39,65.97 L282.29,63.89 L287.19,61.90 L292.09,59.99 L296.99,58.18 L301.90,56.46 L306.80,54.84 L311.70,53.30" stroke="#0aa078" stroke-opacity="0.72"/>
<path d="M81.30,105.00 L86.20,105.00 L91.10,105.00 L96.01,105.00 L100.91,105.00 L105.81,105.00 L110.71,105.00 L115.61,105.00 L120.52,105.00 L125.42,105.00 L130.32,104.99 L135.22,104.99 L140.13,104.99 L145.03,104.99 L149.93,104.98 L154.83,104.98 L159.73,104.97 L164.64,104.96 L169.54,104.94 L174.44,104.92 L179.34,104.88 L184.24,104.80 L189.15,104.63 L194.05,104.29 L198.95,103.61 L203.85,102.39 L208.76,100.57 L213.66,98.30 L218.56,95.75 L223.46,93.10 L228.36,90.41 L233.27,87.74 L238.17,85.09 L243.07,82.48 L247.97,79.93 L252.87,77.42 L257.78,74.97 L262.68,72.59 L267.58,70.28 L272.48,68.04 L277.39,65.88 L282.29,63.80 L287.19,61.80 L292.09,59.90 L296.99,58.09 L301.90,56.37 L306.80,54.74 L311.70,53.21" stroke="#0aa078" stroke-opacity="0.72"/>
</g>
<rect x="70.2" y="20.4" width="253.2" height="252.5" fill="none" stroke="#111" stroke-width="1.3"/>
<line x1="65.2" y1="58.4" x2="70.2" y2="58.4" stroke="#111" stroke-width="1.3"/>
<text x="58.3" y="64" text-anchor="end" font-size="16.3" fill="#111">10<tspan font-size="11.2" dx="0.4" dy="-6.0">0</tspan></text>
<line x1="65.2" y1="130" x2="70.2" y2="130" stroke="#111" stroke-width="1.3"/>
<text x="56.1" y="135.6" text-anchor="end" font-size="16.3" fill="#111">10<tspan font-size="13.2" dx="0.1" dy="-5.0">−</tspan><tspan font-size="11.2" dx="0.3" dy="-1.0">2</tspan></text>
<line x1="65.2" y1="201.7" x2="70.2" y2="201.7" stroke="#111" stroke-width="1.3"/>
<text x="56.1" y="207.3" text-anchor="end" font-size="16.3" fill="#111">10<tspan font-size="13.2" dx="0.1" dy="-5.0">−</tspan><tspan font-size="11.2" dx="0.3" dy="-1.0">4</tspan></text>
<line x1="196.4" y1="272.9" x2="196.4" y2="277.9" stroke="#111" stroke-width="1.3"/>
<text x="195.1" y="295.9" text-anchor="middle" font-size="16.3" fill="#111">10<tspan font-size="13.2" dx="0.1" dy="-5.0">−</tspan><tspan font-size="11.2" dx="0.3" dy="-1.0">2</tspan></text>
<line x1="239.6" y1="229.4" x2="257.8" y2="229.4" stroke="#3a57c2" stroke-width="2.8"/>
<line x1="239.6" y1="251.6" x2="257.8" y2="251.6" stroke="#0aa078" stroke-width="2.8"/>
<text font-family="Liberation Serif" font-size="16" fill="#111"><tspan x="269.0" y="235.0">∼</tspan></text>
<g fill="none" stroke="#111" stroke-linecap="round" stroke-linejoin="round" transform="translate(285.0,227.2) scale(0.535) translate(-186.5,-315.2)"><path d="M186.5,319.4 C187.3,316.6 189.1,315.2 190.5,315.5 C192.1,315.9 191.9,318.3 191.1,320.6" stroke-width="1.76"/><path d="M191.1,320.6 C190.3,322.9 189.5,325.3 190.1,326.8 C190.8,328.4 193.4,328.5 195.1,327.3 C196.3,326.4 196.8,325.0 197.1,323.4" stroke-width="2.56"/><path d="M198.9,316.1 L197.1,324.6" stroke-width="2.84"/><path d="M197.1,324.6 C196.7,326.9 197.9,328.3 199.8,328.2 C202.2,328.0 204.3,325.2 205.2,321.8 C205.8,319.5 205.8,317.6 205.0,316.4" stroke-width="1.76"/><circle cx="204.7" cy="316.6" r="1.15" fill="#111" stroke="none"/></g>
<text x="267.8" y="255.6" font-family="Liberation Serif" font-size="16" fill="#111">const.</text>
<g fill="none" stroke="#111" stroke-linecap="round" stroke-linejoin="round"><path d="M186.5,319.4 C187.3,316.6 189.1,315.2 190.5,315.5 C192.1,315.9 191.9,318.3 191.1,320.6" stroke-width="1.30"/><path d="M191.1,320.6 C190.3,322.9 189.5,325.3 190.1,326.8 C190.8,328.4 193.4,328.5 195.1,327.3 C196.3,326.4 196.8,325.0 197.1,323.4" stroke-width="1.90"/><path d="M198.9,316.1 L197.1,324.6" stroke-width="2.10"/><path d="M197.1,324.6 C196.7,326.9 197.9,328.3 199.8,328.2 C202.2,328.0 204.3,325.2 205.2,321.8 C205.8,319.5 205.8,317.6 205.0,316.4" stroke-width="1.30"/><circle cx="204.7" cy="316.6" r="1.15" fill="#111" stroke="none"/></g>
<g transform="translate(22.3,154.0) rotate(-90)" fill="none" stroke="#111" stroke-linecap="round"><path d="M2.7,-20.0 C4.9,-20.3 6.4,-19.3 7.1,-16.8" stroke-width="1.8"/><path d="M7.0,-17.0 L12.9,-0.6" stroke-width="2.4"/><path d="M8.3,-8.8 L0.7,-0.6" stroke-width="1.55"/></g>
<path d="M2.3,8.3 C4.5,6.1 9.3,5.6 11.5,7.2 C13,8.3 13.5,9.8 13.5,11.8 L13.6,22.7 M13.4,12.5 C9,12.3 5,12.8 3.2,14.5 C1.5,16.2 1.6,19.8 3.4,21.4 C5.2,23 9,22.9 11.2,20.6 C12.6,19 13.3,16 13.4,12.5" fill="none" stroke="#111" stroke-width="1.35"/>
<defs><clipPath id="cb"><rect x="432" y="21" width="251.5" height="251.3"/></clipPath></defs>
<g clip-path="url(#cb)" fill="none" stroke-width="2.3" stroke-linejoin="round">
<path d="M442.00,31.70 L490.00,31.70 L522.00,32.20 L538.00,32.90 L557.00,35.50 L570.30,37.70 L580.00,42.90 L587.20,47.40 L588.30,60.50 L591.80,63.80 L596.20,75.50 L599.10,82.80 L604.20,91.50 L605.00,101.80 L605.10,110.00 L607.10,123.10 L609.70,136.30 L611.00,149.40 L612.30,175.70 L613.70,199.30 L614.90,227.20 L616.10,261.30" stroke="#3a57c2"/>
<path d="M442.00,31.70 L490.00,31.70 L538.20,32.90 L557.40,35.70 L570.30,38.90 L580.00,44.50 L587.60,49.30 L588.30,60.50 L591.20,62.10 L595.50,64.50 L600.00,70.20 L601.30,72.60 L607.20,87.20 L613.00,101.80 L613.70,110.00 L615.00,116.60 L620.20,133.70 L624.80,148.10 L629.40,159.90 L633.40,170.40 L636.60,175.70 L638.60,183.60 L641.90,199.30 L645.90,203.60 L647.80,214.80 L649.00,229.70 L657.70,240.90 L659.60,249.60 L660.40,261.30" stroke="#0aa078"/>
<path d="M456.60,31.70 L490.00,31.60 L522.10,32.40 L546.20,33.20 L562.30,34.80 L571.90,36.80 L573.50,38.10 L581.50,41.00 L588.00,41.80 L589.90,42.90 L590.80,58.10 L596.00,59.70 L600.00,62.10 L601.30,62.30 L604.20,66.70 L605.40,75.50 L607.90,77.70 L611.50,87.20 L615.90,103.20 L619.60,119.30 L622.00,127.00 L632.00,152.00 L642.20,190.00 L649.60,203.60 L655.80,208.60 L658.30,214.80 L659.60,223.50 L660.20,239.60 L672.00,261.30" stroke="#f0b400"/>
<path d="M595.2,58.7 L673.2,261.3" stroke="#000" stroke-width="2.7" stroke-dasharray="8,3.9"/>
</g>
<rect x="431.3" y="20.5" width="252.9" height="252.4" fill="none" stroke="#111" stroke-width="1.3"/>
<line x1="426.3" y1="31.7" x2="431.3" y2="31.7" stroke="#111" stroke-width="1.3"/>
<text x="419.5" y="37.3" text-anchor="end" font-size="16.3" fill="#111">10<tspan font-size="11.2" dx="0.4" dy="-6.0">0</tspan></text>
<line x1="426.3" y1="158.4" x2="431.3" y2="158.4" stroke="#111" stroke-width="1.3"/>
<text x="417.3" y="164" text-anchor="end" font-size="16.3" fill="#111">10<tspan font-size="13.2" dx="0.1" dy="-5.0">−</tspan><tspan font-size="11.2" dx="0.3" dy="-1.0">2</tspan></text>
<line x1="549.9" y1="272.9" x2="549.9" y2="277.9" stroke="#111" stroke-width="1.3"/>
<text x="548.6" y="295.9" text-anchor="middle" font-size="16.3" fill="#111">10<tspan font-size="13.2" dx="0.1" dy="-5.0">−</tspan><tspan font-size="11.2" dx="0.3" dy="-1.0">1</tspan></text>
<g transform="translate(551.1,326.6) rotate(0)" fill="none" stroke="#111" stroke-linecap="round"><path d="M2.7,-20.0 C4.9,-20.3 6.4,-19.3 7.1,-16.8" stroke-width="1.8"/><path d="M7.0,-17.0 L12.9,-0.6" stroke-width="2.4"/><path d="M8.3,-8.8 L0.7,-0.6" stroke-width="1.55"/></g>
<text transform="translate(373.8,147.1) rotate(-90)" text-anchor="middle" font-family="Liberation Serif" font-size="32.5" fill="#111">CCDF</text>
<path d="M364.7,-1 L364.7,22.7 M365,14.4 C365,9.9 367.6,6.3 371.1,6.3 C374.4,6.3 377,9.9 377,14.4 C377,18.9 374.4,22.6 371.1,22.6 C367.6,22.6 365,18.9 365,14.4" fill="none" stroke="#111" stroke-width="1.35"/>
<line x1="445.1" y1="178.5" x2="459.9" y2="178.5" stroke="#3a57c2" stroke-width="2.4" stroke-linecap="square"/>
<line x1="445.1" y1="205.4" x2="459.9" y2="205.4" stroke="#0aa078" stroke-width="2.4" stroke-linecap="square"/>
<line x1="445.1" y1="229.1" x2="459.9" y2="229.1" stroke="#f0b400" stroke-width="2.4" stroke-linecap="square"/>
<line x1="445.1" y1="251.45" x2="459.9" y2="251.45" stroke="#000" stroke-width="2.7" stroke-dasharray="8,3.9"/>
<text fill="#111"><tspan x="470.9" y="182.9" font-family="Liberation Serif" font-size="16" font-style="italic">V</tspan><tspan x="482.8" y="176.8" font-family="Liberation Serif" font-size="11" letter-spacing="0.9">−1/2</tspan><tspan x="506.8" y="182.9" font-family="Liberation Serif" font-size="16" font-style="italic">Q</tspan><tspan x="518" y="184.5" font-family="Liberation Sans" font-size="11">G</tspan><tspan x="525.9" y="182.9" font-family="Liberation Serif" font-size="16" font-style="italic">V</tspan><tspan x="538.7" y="176.8" font-family="Liberation Serif" font-size="11" letter-spacing="0.9">−1/2</tspan></text>
<text fill="#111"><tspan x="470.9" y="209.2" font-family="Liberation Serif" font-size="16" font-style="italic">V</tspan><tspan x="480" y="213.7" font-family="Liberation Serif" font-size="11">rand</tspan><tspan x="482.8" y="202.2" font-family="Liberation Serif" font-size="11" letter-spacing="0.9">−1/2</tspan><tspan x="506.8" y="209.2" font-family="Liberation Serif" font-size="16" font-style="italic">Q</tspan><tspan x="518" y="210.8" font-family="Liberation Sans" font-size="11">G</tspan><tspan x="525.9" y="209.2" font-family="Liberation Serif" font-size="16" font-style="italic">V</tspan><tspan x="535.6" y="213.7" font-family="Liberation Serif" font-size="11">rand</tspan><tspan x="538.7" y="202.2" font-family="Liberation Serif" font-size="11" letter-spacing="0.9">−1/2</tspan></text>
<text fill="#111"><tspan x="472.2" y="232.8" font-family="Liberation Serif" font-size="16" font-style="italic">Q</tspan><tspan x="483.4" y="234.4" font-family="Liberation Sans" font-size="11">G</tspan></text>
<text fill="#111"><tspan x="473.8" y="257.6" font-family="Liberation Serif" font-size="16">∼</tspan><tspan x="488.6" y="255.8" font-family="Liberation Serif" font-size="16" font-style="italic">λ</tspan><tspan x="499.1" y="252.4" font-family="Liberation Serif" font-size="11">−</tspan><tspan x="504.8" y="252.4" font-family="Liberation Serif" font-size="11" font-style="italic">γ</tspan><tspan x="513.8" y="252.4" font-family="Liberation Serif" font-size="11">+</tspan><tspan x="523.8" y="252.4" font-family="Liberation Serif" font-size="11">1</tspan></text>
<defs><clipPath id="cc"><rect x="70.3" y="381.5" width="253.1" height="252.7"/></clipPath></defs>
<g clip-path="url(#cc)">
<path d="M81.50,612.50 L127.40,595.80 L173.60,597.20 L219.50,590.30 L265.50,582.00 L311.50,577.50" fill="none" stroke="#3a57c2" stroke-width="2.4" stroke-linejoin="round"/>
<line x1="81.5" y1="602.2" x2="81.5" y2="622.8" stroke="#3a57c2" stroke-width="2.4"/>
<circle cx="81.5" cy="612.5" r="5" fill="#3a57c2"/>
<circle cx="127.4" cy="595.8" r="5" fill="#3a57c2"/>
<circle cx="173.6" cy="597.2" r="5" fill="#3a57c2"/>
<circle cx="219.5" cy="590.3" r="5" fill="#3a57c2"/>
<circle cx="265.5" cy="582" r="5" fill="#3a57c2"/>
<circle cx="311.5" cy="577.5" r="5" fill="#3a57c2"/>
<path d="M81.50,611.00 L127.40,579.20 L173.60,538.60 L219.50,509.20 L265.50,459.80 L311.50,418.80" fill="none" stroke="#0aa078" stroke-width="2.4" stroke-linejoin="round"/>
<line x1="81.5" y1="602" x2="81.5" y2="620" stroke="#0aa078" stroke-width="2.4"/>
<line x1="127.4" y1="570.8" x2="127.4" y2="587.6" stroke="#0aa078" stroke-width="2.4"/>
<line x1="173.6" y1="522.8" x2="173.6" y2="554.4" stroke="#0aa078" stroke-width="2.4"/>
<line x1="219.5" y1="497.2" x2="219.5" y2="521.2" stroke="#0aa078" stroke-width="2.4"/>
<line x1="265.5" y1="446.4" x2="265.5" y2="473.2" stroke="#0aa078" stroke-width="2.4"/>
<line x1="311.5" y1="406.8" x2="311.5" y2="430.8" stroke="#0aa078" stroke-width="2.4"/>
<circle cx="81.5" cy="611" r="5" fill="#0aa078"/>
<circle cx="127.4" cy="579.2" r="5" fill="#0aa078"/>
<circle cx="173.6" cy="538.6" r="5" fill="#0aa078"/>
<circle cx="219.5" cy="509.2" r="5" fill="#0aa078"/>
<circle cx="265.5" cy="459.8" r="5" fill="#0aa078"/>
<circle cx="311.5" cy="418.8" r="5" fill="#0aa078"/>
<path d="M81.50,605.30 L127.40,572.20 L173.60,527.60 L219.50,495.80 L265.50,451.80 L311.50,403.30" fill="none" stroke="#f0b400" stroke-width="2.4" stroke-linejoin="round"/>
<line x1="81.5" y1="602.3" x2="81.5" y2="608.3" stroke="#f0b400" stroke-width="2.4"/>
<line x1="127.4" y1="569.2" x2="127.4" y2="575.2" stroke="#f0b400" stroke-width="2.4"/>
<line x1="173.6" y1="519.3" x2="173.6" y2="535.9" stroke="#f0b400" stroke-width="2.4"/>
<line x1="219.5" y1="488.9" x2="219.5" y2="502.7" stroke="#f0b400" stroke-width="2.4"/>
<line x1="265.5" y1="447" x2="265.5" y2="456.6" stroke="#f0b400" stroke-width="2.4"/>
<line x1="311.5" y1="392.9" x2="311.5" y2="413.7" stroke="#f0b400" stroke-width="2.4"/>
<circle cx="81.5" cy="605.3" r="5" fill="#f0b400"/>
<circle cx="127.4" cy="572.2" r="5" fill="#f0b400"/>
<circle cx="173.6" cy="527.6" r="5" fill="#f0b400"/>
<circle cx="219.5" cy="495.8" r="5" fill="#f0b400"/>
<circle cx="265.5" cy="451.8" r="5" fill="#f0b400"/>
<circle cx="311.5" cy="403.3" r="5" fill="#f0b400"/>
</g>
<rect x="70.3" y="381.5" width="253.1" height="252.7" fill="none" stroke="#111" stroke-width="1.3"/>
<line x1="65.3" y1="536.7" x2="70.3" y2="536.7" stroke="#111" stroke-width="1.3"/>
<text x="58.3" y="542.3" text-anchor="end" font-size="16.3" fill="#111">10<tspan font-size="11.2" dx="0.4" dy="-6.0">1</tspan></text>
<line x1="65.3" y1="408.6" x2="70.3" y2="408.6" stroke="#111" stroke-width="1.3"/>
<text x="58.3" y="414.2" text-anchor="end" font-size="16.3" fill="#111">10<tspan font-size="11.2" dx="0.4" dy="-6.0">2</tspan></text>
<line x1="67.3" y1="626.24" x2="70.3" y2="626.24" stroke="#111" stroke-width="1.0"/>
<line x1="67.3" y1="603.68" x2="70.3" y2="603.68" stroke="#111" stroke-width="1.0"/>
<line x1="67.3" y1="587.68" x2="70.3" y2="587.68" stroke="#111" stroke-width="1.0"/>
<line x1="67.3" y1="575.26" x2="70.3" y2="575.26" stroke="#111" stroke-width="1.0"/>
<line x1="67.3" y1="565.12" x2="70.3" y2="565.12" stroke="#111" stroke-width="1.0"/>
<line x1="67.3" y1="556.54" x2="70.3" y2="556.54" stroke="#111" stroke-width="1.0"/>
<line x1="67.3" y1="549.11" x2="70.3" y2="549.11" stroke="#111" stroke-width="1.0"/>
<line x1="67.3" y1="542.56" x2="70.3" y2="542.56" stroke="#111" stroke-width="1.0"/>
<line x1="67.3" y1="498.14" x2="70.3" y2="498.14" stroke="#111" stroke-width="1.0"/>
<line x1="67.3" y1="475.58" x2="70.3" y2="475.58" stroke="#111" stroke-width="1.0"/>
<line x1="67.3" y1="459.58" x2="70.3" y2="459.58" stroke="#111" stroke-width="1.0"/>
<line x1="67.3" y1="447.16" x2="70.3" y2="447.16" stroke="#111" stroke-width="1.0"/>
<line x1="67.3" y1="437.02" x2="70.3" y2="437.02" stroke="#111" stroke-width="1.0"/>
<line x1="67.3" y1="428.44" x2="70.3" y2="428.44" stroke="#111" stroke-width="1.0"/>
<line x1="67.3" y1="421.01" x2="70.3" y2="421.01" stroke="#111" stroke-width="1.0"/>
<line x1="67.3" y1="414.46" x2="70.3" y2="414.46" stroke="#111" stroke-width="1.0"/>
<line x1="111.6" y1="634.2" x2="111.6" y2="639.2" stroke="#111" stroke-width="1.3"/>
<text x="111.6" y="657.2" text-anchor="middle" font-size="16.3" fill="#111">10<tspan font-size="11.2" dx="0.4" dy="-6.0">1</tspan></text>
<line x1="188.1" y1="634.2" x2="188.1" y2="639.2" stroke="#111" stroke-width="1.3"/>
<text x="188.1" y="657.2" text-anchor="middle" font-size="16.3" fill="#111">10<tspan font-size="11.2" dx="0.4" dy="-6.0">2</tspan></text>
<line x1="264.6" y1="634.2" x2="264.6" y2="639.2" stroke="#111" stroke-width="1.3"/>
<text x="264.6" y="657.2" text-anchor="middle" font-size="16.3" fill="#111">10<tspan font-size="11.2" dx="0.4" dy="-6.0">3</tspan></text>
<line x1="71.6" y1="634.2" x2="71.6" y2="637.2" stroke="#111" stroke-width="1.0"/>
<line x1="81.16" y1="634.2" x2="81.16" y2="637.2" stroke="#111" stroke-width="1.0"/>
<line x1="88.57" y1="634.2" x2="88.57" y2="637.2" stroke="#111" stroke-width="1.0"/>
<line x1="94.63" y1="634.2" x2="94.63" y2="637.2" stroke="#111" stroke-width="1.0"/>
<line x1="99.75" y1="634.2" x2="99.75" y2="637.2" stroke="#111" stroke-width="1.0"/>
<line x1="104.19" y1="634.2" x2="104.19" y2="637.2" stroke="#111" stroke-width="1.0"/>
<line x1="108.1" y1="634.2" x2="108.1" y2="637.2" stroke="#111" stroke-width="1.0"/>
<line x1="134.63" y1="634.2" x2="134.63" y2="637.2" stroke="#111" stroke-width="1.0"/>
<line x1="148.1" y1="634.2" x2="148.1" y2="637.2" stroke="#111" stroke-width="1.0"/>
<line x1="157.66" y1="634.2" x2="157.66" y2="637.2" stroke="#111" stroke-width="1.0"/>
<line x1="165.07" y1="634.2" x2="165.07" y2="637.2" stroke="#111" stroke-width="1.0"/>
<line x1="171.13" y1="634.2" x2="171.13" y2="637.2" stroke="#111" stroke-width="1.0"/>
<line x1="176.25" y1="634.2" x2="176.25" y2="637.2" stroke="#111" stroke-width="1.0"/>
<line x1="180.69" y1="634.2" x2="180.69" y2="637.2" stroke="#111" stroke-width="1.0"/>
<line x1="184.6" y1="634.2" x2="184.6" y2="637.2" stroke="#111" stroke-width="1.0"/>
<line x1="211.13" y1="634.2" x2="211.13" y2="637.2" stroke="#111" stroke-width="1.0"/>
<line x1="224.6" y1="634.2" x2="224.6" y2="637.2" stroke="#111" stroke-width="1.0"/>
<line x1="234.16" y1="634.2" x2="234.16" y2="637.2" stroke="#111" stroke-width="1.0"/>
<line x1="241.57" y1="634.2" x2="241.57" y2="637.2" stroke="#111" stroke-width="1.0"/>
<line x1="247.63" y1="634.2" x2="247.63" y2="637.2" stroke="#111" stroke-width="1.0"/>
<line x1="252.75" y1="634.2" x2="252.75" y2="637.2" stroke="#111" stroke-width="1.0"/>
<line x1="257.19" y1="634.2" x2="257.19" y2="637.2" stroke="#111" stroke-width="1.0"/>
<line x1="261.1" y1="634.2" x2="261.1" y2="637.2" stroke="#111" stroke-width="1.0"/>
<line x1="287.63" y1="634.2" x2="287.63" y2="637.2" stroke="#111" stroke-width="1.0"/>
<line x1="301.1" y1="634.2" x2="301.1" y2="637.2" stroke="#111" stroke-width="1.0"/>
<line x1="310.66" y1="634.2" x2="310.66" y2="637.2" stroke="#111" stroke-width="1.0"/>
<line x1="318.07" y1="634.2" x2="318.07" y2="637.2" stroke="#111" stroke-width="1.0"/>
<line x1="82.2" y1="404.3" x2="99.2" y2="404.3" stroke="#3a57c2" stroke-width="2.4"/>
<line x1="90.7" y1="396.8" x2="90.7" y2="411.8" stroke="#3a57c2" stroke-width="2.4"/>
<circle cx="90.7" cy="404.3" r="5" fill="#3a57c2"/>
<line x1="82.2" y1="431.3" x2="99.2" y2="431.3" stroke="#0aa078" stroke-width="2.4"/>
<line x1="90.7" y1="423.8" x2="90.7" y2="438.8" stroke="#0aa078" stroke-width="2.4"/>
<circle cx="90.7" cy="431.3" r="5" fill="#0aa078"/>
<line x1="82.2" y1="455.1" x2="99.2" y2="455.1" stroke="#f0b400" stroke-width="2.4"/>
<line x1="90.7" y1="447.6" x2="90.7" y2="462.6" stroke="#f0b400" stroke-width="2.4"/>
<circle cx="90.7" cy="455.1" r="5" fill="#f0b400"/>
<text fill="#111"><tspan x="108.5" y="408.6" font-family="Liberation Serif" font-size="16" font-style="italic">V</tspan><tspan x="120.4" y="402.5" font-family="Liberation Serif" font-size="11" letter-spacing="0.9">−1/2</tspan><tspan x="144.4" y="408.6" font-family="Liberation Serif" font-size="16" font-style="italic">Q</tspan><tspan x="155.6" y="410.2" font-family="Liberation Sans" font-size="11">G</tspan><tspan x="163.5" y="408.6" font-family="Liberation Serif" font-size="16" font-style="italic">V</tspan><tspan x="176.3" y="402.5" font-family="Liberation Serif" font-size="11" letter-spacing="0.9">−1/2</tspan></text>
<text fill="#111"><tspan x="108.5" y="435.6" font-family="Liberation Serif" font-size="16" font-style="italic">V</tspan><tspan x="117.6" y="440.1" font-family="Liberation Serif" font-size="11">rand</tspan><tspan x="120.4" y="428.6" font-family="Liberation Serif" font-size="11" letter-spacing="0.9">−1/2</tspan><tspan x="144.4" y="435.6" font-family="Liberation Serif" font-size="16" font-style="italic">Q</tspan><tspan x="155.6" y="437.2" font-family="Liberation Sans" font-size="11">G</tspan><tspan x="163.5" y="435.6" font-family="Liberation Serif" font-size="16" font-style="italic">V</tspan><tspan x="173.2" y="440.1" font-family="Liberation Serif" font-size="11">rand</tspan><tspan x="176.3" y="428.6" font-family="Liberation Serif" font-size="11" letter-spacing="0.9">−1/2</tspan></text>
<text fill="#111"><tspan x="109.8" y="459.2" font-family="Liberation Serif" font-size="16" font-style="italic">Q</tspan><tspan x="121" y="460.8" font-family="Liberation Sans" font-size="11">G</tspan></text>
<text x="197" y="689" text-anchor="middle" font-family="Liberation Serif" font-style="italic" font-size="30" fill="#111">L<tspan font-size="21" dx="3" dy="-10">d</tspan></text>
<g transform="translate(20.9,524.8) rotate(-90)" fill="none" stroke="#111" stroke-linecap="round"><path d="M2.7,-20.0 C4.9,-20.3 6.4,-19.3 7.1,-16.8" stroke-width="1.8"/><path d="M7.0,-17.0 L12.9,-0.6" stroke-width="2.4"/><path d="M8.3,-8.8 L0.7,-0.6" stroke-width="1.55"/><text x="16.5" y="4.9" font-family="Liberation Serif" font-style="italic" font-size="22" fill="#111" stroke="none">N</text></g>
<path d="M13.6,369.3 C12,367.9 10.4,367.4 8.6,367.4 C4.2,367.4 1.9,371.2 1.9,376 C1.9,380.8 4.5,384.2 8.6,384.2 C10.6,384.2 12.2,383.6 13.6,382.5" fill="none" stroke="#111" stroke-width="1.35"/>
<defs><clipPath id="cd"><rect x="431.5" y="381.5" width="252.7" height="252.9"/></clipPath></defs>
<g clip-path="url(#cd)">
<path d="M443.00,408.50 L488.80,457.60 L535.00,492.40 L581.10,535.50 L627.10,580.60 L673.00,614.60" fill="none" stroke="#3a57c2" stroke-width="2.4" stroke-linejoin="round"/>
<line x1="443" y1="402.8" x2="443" y2="414.2" stroke="#3a57c2" stroke-width="2.4"/>
<line x1="535" y1="484.9" x2="535" y2="499.9" stroke="#3a57c2" stroke-width="2.4"/>
<line x1="581.1" y1="529.5" x2="581.1" y2="541.5" stroke="#3a57c2" stroke-width="2.4"/>
<line x1="627.1" y1="575.8" x2="627.1" y2="585.4" stroke="#3a57c2" stroke-width="2.4"/>
<circle cx="443" cy="408.5" r="5" fill="#3a57c2"/>
<circle cx="488.8" cy="457.6" r="5" fill="#3a57c2"/>
<circle cx="535" cy="492.4" r="5" fill="#3a57c2"/>
<circle cx="581.1" cy="535.5" r="5" fill="#3a57c2"/>
<circle cx="627.1" cy="580.6" r="5" fill="#3a57c2"/>
<circle cx="673" cy="614.6" r="5" fill="#3a57c2"/>
<path d="M443.00,407.50 L488.80,462.80 L535.00,500.30 L581.10,543.20 L627.10,583.40 L673.00,616.80" fill="none" stroke="#0aa078" stroke-width="2.4" stroke-linejoin="round"/>
<line x1="443" y1="404.5" x2="443" y2="410.5" stroke="#0aa078" stroke-width="2.4"/>
<line x1="535" y1="491.1" x2="535" y2="509.5" stroke="#0aa078" stroke-width="2.4"/>
<line x1="581.1" y1="537.2" x2="581.1" y2="549.2" stroke="#0aa078" stroke-width="2.4"/>
<line x1="627.1" y1="575.8" x2="627.1" y2="591" stroke="#0aa078" stroke-width="2.4"/>
<circle cx="443" cy="407.5" r="5" fill="#0aa078"/>
<circle cx="488.8" cy="462.8" r="5" fill="#0aa078"/>
<circle cx="535" cy="500.3" r="5" fill="#0aa078"/>
<circle cx="581.1" cy="543.2" r="5" fill="#0aa078"/>
<circle cx="627.1" cy="583.4" r="5" fill="#0aa078"/>
<circle cx="673" cy="616.8" r="5" fill="#0aa078"/>
<path d="M443.00,399.90 L488.80,450.00 L535.00,475.10 L581.10,513.80 L627.10,556.70 L673.00,591.10" fill="none" stroke="#f0b400" stroke-width="2.4" stroke-linejoin="round"/>
<line x1="443" y1="393.7" x2="443" y2="406.1" stroke="#f0b400" stroke-width="2.4"/>
<line x1="535" y1="469" x2="535" y2="481.2" stroke="#f0b400" stroke-width="2.4"/>
<line x1="581.1" y1="506.8" x2="581.1" y2="520.8" stroke="#f0b400" stroke-width="2.4"/>
<line x1="627.1" y1="550.2" x2="627.1" y2="563.2" stroke="#f0b400" stroke-width="2.4"/>
<circle cx="443" cy="399.9" r="5" fill="#f0b400"/>
<circle cx="488.8" cy="450" r="5" fill="#f0b400"/>
<circle cx="535" cy="475.1" r="5" fill="#f0b400"/>
<circle cx="581.1" cy="513.8" r="5" fill="#f0b400"/>
<circle cx="627.1" cy="556.7" r="5" fill="#f0b400"/>
<circle cx="673" cy="591.1" r="5" fill="#f0b400"/>
</g>
<rect x="431.5" y="381.5" width="252.7" height="252.9" fill="none" stroke="#111" stroke-width="1.3"/>
<line x1="426.5" y1="402.2" x2="431.5" y2="402.2" stroke="#111" stroke-width="1.3"/>
<text x="419.5" y="407.8" text-anchor="end" font-size="16.3" fill="#111">10<tspan font-size="11.2" dx="0.4" dy="-6.0">0</tspan></text>
<line x1="426.5" y1="534.7" x2="431.5" y2="534.7" stroke="#111" stroke-width="1.3"/>
<text x="417.3" y="540.3" text-anchor="end" font-size="16.3" fill="#111">10<tspan font-size="13.2" dx="0.1" dy="-5.0">−</tspan><tspan font-size="11.2" dx="0.3" dy="-1.0">2</tspan></text>
<line x1="473.7" y1="634.4" x2="473.7" y2="639.4" stroke="#111" stroke-width="1.3"/>
<text x="473.7" y="657.2" text-anchor="middle" font-size="16.3" fill="#111">10<tspan font-size="11.2" dx="0.4" dy="-6.0">1</tspan></text>
<line x1="550" y1="634.4" x2="550" y2="639.4" stroke="#111" stroke-width="1.3"/>
<text x="550" y="657.2" text-anchor="middle" font-size="16.3" fill="#111">10<tspan font-size="11.2" dx="0.4" dy="-6.0">2</tspan></text>
<line x1="626.3" y1="634.4" x2="626.3" y2="639.4" stroke="#111" stroke-width="1.3"/>
<text x="626.3" y="657.2" text-anchor="middle" font-size="16.3" fill="#111">10<tspan font-size="11.2" dx="0.4" dy="-6.0">3</tspan></text>
<line x1="433.8" y1="634.4" x2="433.8" y2="637.4" stroke="#111" stroke-width="1.0"/>
<line x1="443.34" y1="634.4" x2="443.34" y2="637.4" stroke="#111" stroke-width="1.0"/>
<line x1="450.73" y1="634.4" x2="450.73" y2="637.4" stroke="#111" stroke-width="1.0"/>
<line x1="456.77" y1="634.4" x2="456.77" y2="637.4" stroke="#111" stroke-width="1.0"/>
<line x1="461.88" y1="634.4" x2="461.88" y2="637.4" stroke="#111" stroke-width="1.0"/>
<line x1="466.31" y1="634.4" x2="466.31" y2="637.4" stroke="#111" stroke-width="1.0"/>
<line x1="470.21" y1="634.4" x2="470.21" y2="637.4" stroke="#111" stroke-width="1.0"/>
<line x1="496.67" y1="634.4" x2="496.67" y2="637.4" stroke="#111" stroke-width="1.0"/>
<line x1="510.1" y1="634.4" x2="510.1" y2="637.4" stroke="#111" stroke-width="1.0"/>
<line x1="519.64" y1="634.4" x2="519.64" y2="637.4" stroke="#111" stroke-width="1.0"/>
<line x1="527.03" y1="634.4" x2="527.03" y2="637.4" stroke="#111" stroke-width="1.0"/>
<line x1="533.07" y1="634.4" x2="533.07" y2="637.4" stroke="#111" stroke-width="1.0"/>
<line x1="538.18" y1="634.4" x2="538.18" y2="637.4" stroke="#111" stroke-width="1.0"/>
<line x1="542.61" y1="634.4" x2="542.61" y2="637.4" stroke="#111" stroke-width="1.0"/>
<line x1="546.51" y1="634.4" x2="546.51" y2="637.4" stroke="#111" stroke-width="1.0"/>
<line x1="572.97" y1="634.4" x2="572.97" y2="637.4" stroke="#111" stroke-width="1.0"/>
<line x1="586.4" y1="634.4" x2="586.4" y2="637.4" stroke="#111" stroke-width="1.0"/>
<line x1="595.94" y1="634.4" x2="595.94" y2="637.4" stroke="#111" stroke-width="1.0"/>
<line x1="603.33" y1="634.4" x2="603.33" y2="637.4" stroke="#111" stroke-width="1.0"/>
<line x1="609.37" y1="634.4" x2="609.37" y2="637.4" stroke="#111" stroke-width="1.0"/>
<line x1="614.48" y1="634.4" x2="614.48" y2="637.4" stroke="#111" stroke-width="1.0"/>
<line x1="618.91" y1="634.4" x2="618.91" y2="637.4" stroke="#111" stroke-width="1.0"/>
<line x1="622.81" y1="634.4" x2="622.81" y2="637.4" stroke="#111" stroke-width="1.0"/>
<line x1="649.27" y1="634.4" x2="649.27" y2="637.4" stroke="#111" stroke-width="1.0"/>
<line x1="662.7" y1="634.4" x2="662.7" y2="637.4" stroke="#111" stroke-width="1.0"/>
<line x1="672.24" y1="634.4" x2="672.24" y2="637.4" stroke="#111" stroke-width="1.0"/>
<line x1="679.63" y1="634.4" x2="679.63" y2="637.4" stroke="#111" stroke-width="1.0"/>
<line x1="551" y1="404.3" x2="568" y2="404.3" stroke="#3a57c2" stroke-width="2.4"/>
<line x1="559.5" y1="396.8" x2="559.5" y2="411.8" stroke="#3a57c2" stroke-width="2.4"/>
<circle cx="559.5" cy="404.3" r="5" fill="#3a57c2"/>
<line x1="551" y1="431.2" x2="568" y2="431.2" stroke="#0aa078" stroke-width="2.4"/>
<line x1="559.5" y1="423.7" x2="559.5" y2="438.7" stroke="#0aa078" stroke-width="2.4"/>
<circle cx="559.5" cy="431.2" r="5" fill="#0aa078"/>
<line x1="551" y1="455.1" x2="568" y2="455.1" stroke="#f0b400" stroke-width="2.4"/>
<line x1="559.5" y1="447.6" x2="559.5" y2="462.6" stroke="#f0b400" stroke-width="2.4"/>
<circle cx="559.5" cy="455.1" r="5" fill="#f0b400"/>
<text fill="#111"><tspan x="578" y="408.6" font-family="Liberation Serif" font-size="16" font-style="italic">V</tspan><tspan x="589.9" y="402.5" font-family="Liberation Serif" font-size="11" letter-spacing="0.9">−1/2</tspan><tspan x="613.9" y="408.6" font-family="Liberation Serif" font-size="16" font-style="italic">Q</tspan><tspan x="625.1" y="410.2" font-family="Liberation Sans" font-size="11">G</tspan><tspan x="633" y="408.6" font-family="Liberation Serif" font-size="16" font-style="italic">V</tspan><tspan x="645.8" y="402.5" font-family="Liberation Serif" font-size="11" letter-spacing="0.9">−1/2</tspan></text>
<text fill="#111"><tspan x="578" y="435.6" font-family="Liberation Serif" font-size="16" font-style="italic">V</tspan><tspan x="587.1" y="440.1" font-family="Liberation Serif" font-size="11">rand</tspan><tspan x="589.9" y="428.6" font-family="Liberation Serif" font-size="11" letter-spacing="0.9">−1/2</tspan><tspan x="613.9" y="435.6" font-family="Liberation Serif" font-size="16" font-style="italic">Q</tspan><tspan x="625.1" y="437.2" font-family="Liberation Sans" font-size="11">G</tspan><tspan x="633" y="435.6" font-family="Liberation Serif" font-size="16" font-style="italic">V</tspan><tspan x="642.7" y="440.1" font-family="Liberation Serif" font-size="11">rand</tspan><tspan x="645.8" y="428.6" font-family="Liberation Serif" font-size="11" letter-spacing="0.9">−1/2</tspan></text>
<text fill="#111"><tspan x="579.3" y="459.2" font-family="Liberation Serif" font-size="16" font-style="italic">Q</tspan><tspan x="590.5" y="460.8" font-family="Liberation Sans" font-size="11">G</tspan></text>
<text x="558" y="689" text-anchor="middle" font-family="Liberation Serif" font-style="italic" font-size="30" fill="#111">L<tspan font-size="21" dx="3" dy="-10">d</tspan></text>
<g transform="translate(373.3,521.3) rotate(-90)" fill="none" stroke="#111" stroke-linecap="round"><path d="M2.7,-20.0 C4.9,-20.3 6.4,-19.3 7.1,-16.8" stroke-width="1.8"/><path d="M7.0,-17.0 L12.9,-0.6" stroke-width="2.4"/><path d="M8.3,-8.8 L0.7,-0.6" stroke-width="1.55"/><text x="16.2" y="4.7" font-family="Liberation Serif" font-size="21" fill="#111" stroke="none">2</text></g>
<path d="M375.5,361.3 L375.5,383.8 M375.3,375.6 C375.3,371.1 372.7,367.4 369.4,367.4 C366,367.4 363.3,371.1 363.3,375.6 C363.3,380.1 366,383.8 369.4,383.8 C372.7,383.8 375.3,380.1 375.3,375.6" fill="none" stroke="#111" stroke-width="1.35"/>
</svg>
</body></html>
